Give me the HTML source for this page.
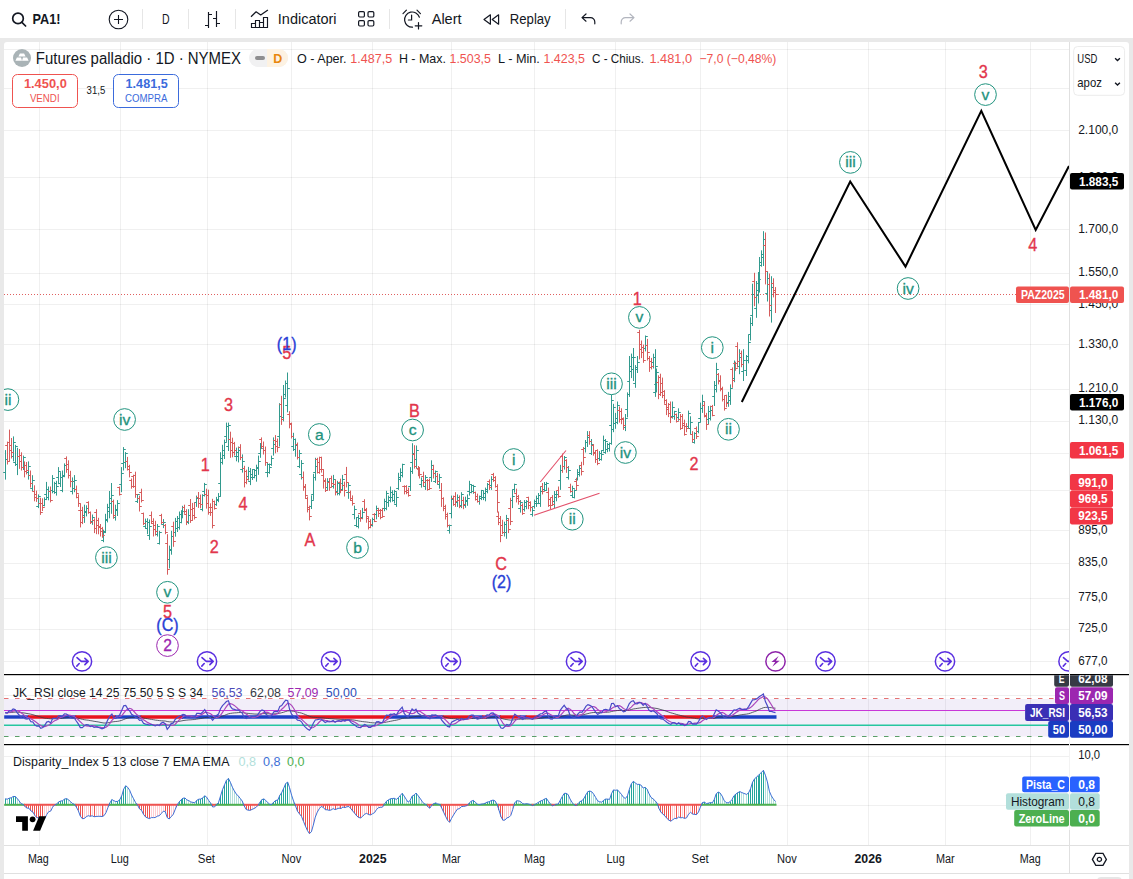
<!DOCTYPE html>
<html lang="it"><head><meta charset="utf-8"><title>PA1! chart</title>
<style>
html,body{margin:0;padding:0}
body{width:1133px;height:879px;overflow:hidden;position:relative;background:#e9e9e9;font-family:"Liberation Sans", sans-serif;color:#131722}
#tb{position:absolute;left:0;top:0;width:1133px;height:38px;background:#fff}
#tb .sep{position:absolute;top:9px;width:1px;height:20px;background:#e6e6e6}
#tb svg{position:absolute;overflow:visible}
#ch{position:absolute;left:4px;top:42px;width:1125px;height:837px;background:#fff;border-radius:3px 3px 0 0}
#main{position:absolute;left:0;top:0}
.lg{position:absolute;white-space:nowrap}
</style></head><body>
<div id="tb">
<svg style="left:11px;top:11px" width="16" height="16" viewBox="0 0 16 16"><circle cx="7" cy="7.4" r="5.3" fill="none" stroke="#131722" stroke-width="1.7"/><path d="M10.9 11.3L14.6 15" stroke="#131722" stroke-width="1.7" stroke-linecap="round"/></svg>
<svg style="left:108px;top:9px" width="21" height="21" viewBox="-10.5 -10.5 21 21"><circle r="9.3" fill="none" stroke="#131722" stroke-width="1.1"/><path d="M-4.5 0H4.5M0 -4.5V4.5" stroke="#131722" stroke-width="1.1"/></svg>
<div class="sep" style="left:142px"></div>
<div class="sep" style="left:188px"></div>
<div class="sep" style="left:235px"></div>
<svg style="left:358px;top:11px" width="17" height="16" viewBox="0 0 17 16" fill="none" stroke="#131722" stroke-width="1.2"><rect x=".6" y=".6" width="5.8" height="5.4" rx="1.2"/><rect x="10" y=".6" width="5.8" height="5.4" rx="1.2"/><rect x=".6" y="9.6" width="5.8" height="5.4" rx="1.2"/><rect x="10" y="9.6" width="5.8" height="5.4" rx="1.2"/></svg>
<div class="sep" style="left:389px"></div>
<svg style="left:402px;top:9px" width="22" height="21" viewBox="0 0 22 21" fill="none" stroke="#131722" stroke-width="1.2" stroke-linecap="round"><path d="M17.4 8.2A7.6 7.6 0 1 0 10.5 18.2"/><path d="M9.6 6V11H6.4"/><path d="M1 4.6L4.4 1.2M15 1.2L18.4 4.6"/><path d="M16.5 13.5V20M13.2 16.8H19.8"/></svg>
<svg style="left:483px;top:14px" width="17" height="11" viewBox="0 0 17 11" fill="none" stroke="#131722" stroke-width="1.2" stroke-linejoin="round"><path d="M7.4 .8V10.2L1 5.5Z"/><path d="M15.6 .8V10.2L9.2 5.5Z"/></svg>
<div class="sep" style="left:565px"></div>
<svg style="left:581px;top:13px" width="15" height="12" viewBox="0 0 15 12" fill="none" stroke="#131722" stroke-width="1.2" stroke-linecap="round" stroke-linejoin="round"><path d="M5 1L1 4.6L5 8.2M1.2 4.6H9.5A4.3 4.3 0 0 1 13.8 8.9V10.8"/></svg>
<svg style="left:619.5px;top:13px" width="15" height="12" viewBox="0 0 15 12" fill="none" stroke="#b2b5be" stroke-width="1.2" stroke-linecap="round" stroke-linejoin="round"><path d="M10 1L14 4.6L10 8.2M13.8 4.6H5.5A4.3 4.3 0 0 0 1.2 8.9V10.8"/></svg>
</div>
<div id="ch"></div>
<svg id="main" width="1133" height="879" viewBox="0 0 1133 879" font-family='"Liberation Sans", sans-serif'>
<defs><clipPath id="mainclip"><rect x="4" y="42" width="1065" height="632"/></clipPath><clipPath id="rsiclip"><rect x="1000" y="675.2" width="133" height="70"/></clipPath></defs>
<path d="M39.5 42V845M120.5 42V845M207.5 42V845M291.5 42V845M372.5 42V845M451.5 42V845M534.5 42V845M615.5 42V845M700.5 42V845M787.5 42V845M868.5 42V845M945.5 42V845M1030.5 42V845" stroke="#000" stroke-opacity="0.06" stroke-width="1" fill="none"/>
<path d="M4 49.5H1069M4 88.5H1069M4 130.5H1069M4 177.5H1069M4 229.5H1069M4 273.5H1069M4 304.5H1069M4 344.5H1069M4 389.5H1069M4 421.5H1069M4 453.5H1069M4 490.5H1069M4 530.5H1069M4 563.5H1069M4 598.5H1069M4 629.5H1069M4 661.5H1069M4 695.5H1069M4 756.5H1069M4 805.5H1069" stroke="#000" stroke-opacity="0.06" stroke-width="1" fill="none"/>
<rect x="4" y="699" width="1065" height="37.5" fill="#7e57c2" fill-opacity="0.1"/>
<line x1="4" y1="698.5" x2="1055" y2="698.5" stroke="#e57373" stroke-width="1" stroke-dasharray="4.5 6.5"/>
<line x1="4" y1="736.5" x2="1048" y2="736.5" stroke="#5a9e68" stroke-width="1" stroke-dasharray="4.5 6.5"/>
<line x1="4" y1="725.2" x2="1048" y2="725.2" stroke="#26c6a0" stroke-width="1.4"/>
<line x1="4" y1="710.5" x2="1025" y2="710.5" stroke="#c837d8" stroke-width="1"/>
<line x1="4.2" y1="717" x2="28.9" y2="717" stroke="#1c3fc4" stroke-width="3.4"/><line x1="27.9" y1="717" x2="60.5" y2="717" stroke="#e8121d" stroke-width="3.4"/><line x1="59.5" y1="717" x2="76.3" y2="717" stroke="#1c3fc4" stroke-width="3.4"/><line x1="75.3" y1="717" x2="115.8" y2="717" stroke="#e8121d" stroke-width="3.4"/><line x1="114.8" y1="717" x2="141.5" y2="717" stroke="#1c3fc4" stroke-width="3.4"/><line x1="140.5" y1="717" x2="183.0" y2="717" stroke="#e8121d" stroke-width="3.4"/><line x1="182.0" y1="717" x2="299.5" y2="717" stroke="#1c3fc4" stroke-width="3.4"/><line x1="298.5" y1="717" x2="390.4" y2="717" stroke="#e8121d" stroke-width="3.4"/><line x1="389.4" y1="717" x2="443.7" y2="717" stroke="#1c3fc4" stroke-width="3.4"/><line x1="442.7" y1="717" x2="473.3" y2="717" stroke="#e8121d" stroke-width="3.4"/><line x1="472.3" y1="717" x2="483.2" y2="717" stroke="#1c3fc4" stroke-width="3.4"/><line x1="482.2" y1="717" x2="487.1" y2="717" stroke="#e8121d" stroke-width="3.4"/><line x1="486.1" y1="717" x2="501.0" y2="717" stroke="#1c3fc4" stroke-width="3.4"/><line x1="500.0" y1="717" x2="520.7" y2="717" stroke="#e8121d" stroke-width="3.4"/><line x1="519.7" y1="717" x2="526.6" y2="717" stroke="#1c3fc4" stroke-width="3.4"/><line x1="525.6" y1="717" x2="538.5" y2="717" stroke="#e8121d" stroke-width="3.4"/><line x1="537.5" y1="717" x2="664.9" y2="717" stroke="#1c3fc4" stroke-width="3.4"/><line x1="663.9" y1="717" x2="714.3" y2="717" stroke="#e8121d" stroke-width="3.4"/><line x1="713.3" y1="717" x2="776.5" y2="717" stroke="#1c3fc4" stroke-width="3.4"/><polyline points="5.2,712.7 7.2,712.7 9.2,712.6 11.2,712.5 13.1,712.3 15.1,712.1 17.1,712.2 19.1,712.3 21.0,712.6 23.0,712.8 25.0,713.1 27.0,713.5 28.9,713.8 30.9,714.2 32.9,714.7 34.9,715.3 36.8,715.9 38.8,716.5 40.8,717.1 42.8,717.7 44.7,718.2 46.7,718.4 48.7,718.6 50.7,718.8 52.6,718.8 54.6,718.8 56.6,718.8 58.6,718.6 60.5,718.5 62.5,718.3 64.5,718.0 66.5,717.8 68.4,717.7 70.4,717.7 72.4,717.7 74.4,717.7 76.3,717.9 78.3,718.3 80.3,718.8 82.3,719.3 84.2,719.7 86.2,720.0 88.2,720.2 90.2,720.6 92.1,720.9 94.1,721.3 96.1,721.6 98.1,721.9 100.0,722.3 102.0,722.7 104.0,723.0 106.0,723.0 107.9,722.8 109.9,722.4 111.9,722.0 113.9,721.7 115.8,721.5 117.8,721.3 119.8,720.9 121.8,720.3 123.7,719.5 125.7,718.7 127.7,718.1 129.7,717.7 131.6,717.5 133.6,717.4 135.6,717.4 137.6,717.4 139.5,717.6 141.5,717.7 143.5,718.0 145.5,718.4 147.4,718.7 149.4,719.1 151.4,719.4 153.4,719.7 155.3,720.1 157.3,720.3 159.3,720.6 161.3,720.8 163.2,720.9 165.2,721.0 167.2,721.5 169.2,721.8 171.1,721.9 173.1,722.0 175.1,721.8 177.1,721.6 179.0,721.3 181.0,721.0 183.0,720.6 185.0,720.3 186.9,720.1 188.9,719.9 190.9,719.8 192.9,719.6 194.8,719.5 196.8,719.1 198.8,718.8 200.8,718.5 202.7,718.1 204.7,717.6 206.7,717.4 208.7,717.3 210.6,717.4 212.6,717.5 214.6,717.5 216.6,717.4 218.5,717.2 220.5,716.7 222.5,716.1 224.5,715.4 226.4,714.6 228.4,713.8 230.4,713.4 232.4,713.1 234.3,712.9 236.3,712.8 238.3,712.6 240.3,712.5 242.2,712.6 244.2,712.9 246.2,713.2 248.2,713.4 250.1,713.7 252.1,713.8 254.1,714.0 256.1,714.1 258.0,714.1 260.0,714.0 262.0,713.7 264.0,713.6 265.9,713.6 267.9,713.7 269.9,713.9 271.9,714.0 273.8,713.9 275.8,713.7 277.8,713.6 279.8,713.2 281.7,712.7 283.7,712.2 285.7,711.5 287.7,710.9 289.6,710.8 291.6,711.0 293.6,711.3 295.6,711.7 297.5,712.2 299.5,712.6 301.5,713.1 303.5,713.8 305.4,714.6 307.4,715.4 309.4,716.3 311.4,716.9 313.3,717.3 315.3,717.4 317.3,717.6 319.3,717.7 321.2,717.7 323.2,717.9 325.2,718.2 327.2,718.4 329.1,718.6 331.1,718.7 333.1,718.8 335.1,719.0 337.0,719.1 339.0,719.2 341.0,719.4 343.0,719.4 344.9,719.5 346.9,719.5 348.9,719.5 350.9,719.7 352.8,719.9 354.8,720.2 356.8,720.6 358.8,721.0 360.7,721.3 362.7,721.6 364.7,721.8 366.7,722.0 368.6,722.3 370.6,722.6 372.6,722.8 374.6,722.9 376.5,722.8 378.5,722.8 380.5,722.8 382.5,722.7 384.4,722.5 386.4,722.1 388.4,721.7 390.4,721.3 392.3,720.9 394.3,720.5 396.3,720.2 398.3,719.7 400.2,719.1 402.2,718.4 404.2,718.1 406.2,718.0 408.1,717.9 410.1,717.7 412.1,717.2 414.1,716.8 416.0,716.4 418.0,716.2 420.0,716.1 422.0,716.1 423.9,716.1 425.9,716.1 427.9,716.3 429.9,716.4 431.8,716.3 433.8,716.2 435.8,716.2 437.8,716.2 439.7,716.2 441.7,716.4 443.7,716.8 445.7,717.2 447.6,717.8 449.6,718.3 451.6,718.5 453.6,718.7 455.5,718.7 457.5,718.8 459.5,718.9 461.5,718.8 463.4,718.9 465.4,718.9 467.4,718.9 469.4,718.7 471.3,718.5 473.3,718.3 475.3,718.3 477.3,718.4 479.2,718.4 481.2,718.3 483.2,718.2 485.2,718.1 487.1,717.9 489.1,717.8 491.1,717.5 493.1,717.2 495.0,717.1 497.0,717.2 499.0,717.7 501.0,718.2 502.9,718.8 504.9,719.3 506.9,719.6 508.9,719.9 510.8,720.1 512.8,720.0 514.8,719.7 516.8,719.4 518.7,719.3 520.7,719.2 522.7,719.2 524.7,719.1 526.6,719.0 528.6,719.0 530.6,718.9 532.6,719.0 534.5,718.9 536.5,718.7 538.5,718.5 540.5,718.3 542.4,718.0 544.4,717.6 546.4,717.2 548.4,717.2 550.3,717.3 552.3,717.4 554.3,717.4 556.3,717.3 558.2,717.2 560.2,716.8 562.2,716.3 564.2,715.7 566.1,715.2 568.1,714.9 570.1,715.0 572.1,715.1 574.0,715.2 576.0,715.3 578.0,715.2 580.0,715.0 581.9,714.9 583.9,714.6 585.9,714.1 587.9,713.6 589.8,713.1 591.8,712.7 593.8,712.5 595.8,712.5 597.7,712.6 599.7,712.6 601.7,712.6 603.7,712.5 605.6,712.3 607.6,712.2 609.6,712.0 611.6,711.5 613.5,711.1 615.5,710.8 617.5,710.5 619.5,710.4 621.4,710.4 623.4,710.5 625.4,710.5 627.4,710.4 629.3,710.0 631.3,709.5 633.3,709.0 635.3,708.7 637.2,708.4 639.2,708.1 641.2,707.8 643.2,707.6 645.1,707.4 647.1,707.3 649.1,707.5 651.1,707.7 653.0,707.9 655.0,708.2 657.0,708.5 659.0,709.0 660.9,709.6 662.9,710.1 664.9,710.7 666.9,711.4 668.8,712.1 670.8,712.8 672.8,713.3 674.8,713.9 676.7,714.5 678.7,715.0 680.7,715.5 682.7,716.0 684.6,716.5 686.6,717.0 688.6,717.3 690.6,717.5 692.5,717.9 694.5,718.2 696.5,718.6 698.5,718.8 700.4,718.7 702.4,718.6 704.4,718.5 706.4,718.6 708.3,718.5 710.3,718.5 712.3,718.4 714.3,718.2 716.2,717.7 718.2,717.3 720.2,717.0 722.2,716.9 724.1,716.9 726.1,717.0 728.1,716.9 730.1,716.8 732.0,716.5 734.0,716.2 736.0,715.8 738.0,715.4 739.9,715.0 741.9,714.7 743.9,714.4 746.6,714.1 748.6,713.7 750.5,713.1 752.6,712.3 754.6,711.6 756.5,710.9 758.0,710.1 759.5,709.3 761.5,708.5 763.4,707.7 765.4,707.4 767.4,707.3 769.4,707.5 771.4,707.7 773.5,708.0 775.5,708.2" fill="none" stroke="#363a45" stroke-width="0.8"/><polyline points="5.2,712.7 7.2,712.9 9.2,712.2 11.2,711.9 13.1,711.3 15.1,710.7 17.1,710.6 19.1,711.4 21.0,712.7 23.0,714.1 25.0,715.9 27.0,717.2 28.9,717.9 30.9,718.7 32.9,720.0 34.9,721.3 36.8,722.7 38.8,724.2 40.8,725.5 42.8,726.6 44.7,726.7 46.7,725.9 48.7,725.0 50.7,723.9 52.6,722.1 54.6,720.7 56.6,720.0 58.6,718.8 60.5,717.5 62.5,716.9 64.5,716.0 66.5,715.1 68.4,715.1 70.4,715.3 72.4,715.8 74.4,716.7 76.3,718.1 78.3,719.8 80.3,721.8 82.3,723.6 84.2,725.2 86.2,725.9 88.2,726.1 90.2,725.9 92.1,725.6 94.1,725.9 96.1,726.4 98.1,726.9 100.0,727.1 102.0,727.7 104.0,727.8 106.0,727.2 107.9,725.7 109.9,723.3 111.9,720.3 113.9,718.4 115.8,717.2 117.8,716.7 119.8,716.4 121.8,715.7 123.7,713.2 125.7,710.6 127.7,709.0 129.7,708.3 131.6,709.0 133.6,711.0 135.6,713.4 137.6,715.2 139.5,717.1 141.5,718.2 143.5,719.8 145.5,721.1 147.4,722.4 149.4,723.4 151.4,724.3 153.4,724.7 155.3,725.0 157.3,725.1 159.3,725.1 161.3,724.9 163.2,724.3 165.2,723.9 167.2,724.8 169.2,725.1 171.1,725.2 173.1,725.4 175.1,724.5 177.1,722.1 179.0,720.1 181.0,718.4 183.0,716.7 185.0,715.8 186.9,715.7 188.9,715.8 190.9,716.2 192.9,716.7 194.8,717.2 196.8,716.4 198.8,715.7 200.8,714.9 202.7,713.9 204.7,712.4 206.7,712.4 208.7,713.0 210.6,713.7 212.6,715.4 214.6,717.1 216.6,717.5 218.5,717.0 220.5,715.3 222.5,712.3 224.5,709.5 226.4,706.7 228.4,704.1 230.4,703.6 232.4,704.3 234.3,705.4 236.3,707.1 238.3,709.0 240.3,710.0 242.2,710.8 244.2,712.5 246.2,714.1 248.2,715.6 250.1,716.8 252.1,717.6 254.1,717.4 256.1,716.9 258.0,716.2 260.0,715.0 262.0,713.6 264.0,712.4 265.9,712.1 267.9,712.3 269.9,713.5 271.9,714.6 273.8,714.8 275.8,714.2 277.8,713.4 279.8,711.3 281.7,709.3 283.7,707.5 285.7,705.3 287.7,703.1 289.6,703.7 291.6,705.4 293.6,708.2 295.6,711.7 297.5,715.6 299.5,717.8 301.5,719.3 303.5,721.1 305.4,722.9 307.4,724.7 309.4,726.7 311.4,727.8 313.3,727.5 315.3,726.0 317.3,724.2 319.3,722.0 321.2,720.2 323.2,719.8 325.2,720.3 327.2,720.6 329.1,721.2 331.1,721.7 333.1,721.6 335.1,721.6 337.0,721.4 339.0,721.2 341.0,721.2 343.0,721.0 344.9,720.8 346.9,720.5 348.9,720.4 350.9,720.6 352.8,721.4 354.8,722.2 356.8,723.6 358.8,725.1 360.7,726.1 362.7,726.5 364.7,726.4 366.7,726.1 368.6,726.2 370.6,726.1 372.6,726.0 374.6,726.2 376.5,725.5 378.5,724.4 380.5,723.4 382.5,722.8 384.4,721.4 386.4,720.1 388.4,718.8 390.4,717.1 392.3,715.5 394.3,714.5 396.3,714.6 398.3,713.8 400.2,712.8 402.2,711.4 404.2,711.4 406.2,711.5 408.1,712.5 410.1,713.3 412.1,713.7 414.1,713.1 416.0,711.8 418.0,711.0 420.0,711.3 422.0,712.7 423.9,714.0 425.9,715.4 427.9,716.4 429.9,717.2 431.8,717.0 433.8,716.6 435.8,716.4 437.8,716.1 439.7,715.6 441.7,716.7 443.7,718.2 445.7,720.1 447.6,722.0 449.6,724.1 451.6,724.5 453.6,724.2 455.5,723.4 457.5,721.9 459.5,720.6 461.5,719.9 463.4,719.6 465.4,719.4 467.4,719.3 469.4,718.4 471.3,717.7 473.3,716.8 475.3,716.6 477.3,716.7 479.2,717.2 481.2,717.6 483.2,718.0 485.2,717.6 487.1,716.8 489.1,716.0 491.1,715.3 493.1,714.4 495.0,714.2 497.0,715.1 499.0,717.0 501.0,720.0 502.9,723.1 504.9,725.4 506.9,726.3 508.9,726.5 510.8,725.7 512.8,723.6 514.8,721.1 516.8,719.4 518.7,717.7 520.7,716.4 522.7,716.6 524.7,717.4 526.6,717.8 528.6,718.0 530.6,718.3 532.6,718.3 534.5,718.2 536.5,717.9 538.5,717.4 540.5,716.4 542.4,715.2 544.4,714.0 546.4,713.0 548.4,713.3 550.3,714.4 552.3,715.5 554.3,716.5 556.3,717.5 558.2,717.3 560.2,715.6 562.2,713.3 564.2,711.1 566.1,709.5 568.1,708.2 570.1,709.2 572.1,711.0 574.0,713.5 576.0,715.3 578.0,716.1 580.0,715.4 581.9,714.5 583.9,712.9 585.9,710.8 587.9,709.0 589.8,707.7 591.8,706.5 593.8,706.5 595.8,707.6 597.7,709.6 599.7,711.1 601.7,712.3 603.7,712.4 605.6,711.8 607.6,710.9 609.6,710.3 611.6,708.5 613.5,707.2 615.5,706.7 617.5,705.8 619.5,705.6 621.4,706.8 623.4,708.5 625.4,709.5 627.4,709.9 629.3,708.8 631.3,707.1 633.3,704.9 635.3,703.4 637.2,702.6 639.2,702.4 641.2,702.7 643.2,703.6 645.1,703.6 647.1,704.1 649.1,705.7 651.1,707.4 653.0,708.5 655.0,710.2 657.0,711.7 659.0,713.2 660.9,714.7 662.9,716.3 664.9,718.0 666.9,719.8 668.8,720.9 670.8,722.0 672.8,722.7 674.8,723.1 676.7,723.5 678.7,723.4 680.7,723.4 682.7,723.7 684.6,724.3 686.6,724.4 688.6,724.1 690.6,723.6 692.5,723.5 694.5,723.2 696.5,723.1 698.5,723.1 700.4,722.4 702.4,720.7 704.4,719.5 706.4,718.5 708.3,717.8 710.3,717.6 712.3,718.1 714.3,717.3 716.2,715.4 718.2,714.0 720.2,713.0 722.2,712.5 724.1,713.2 726.1,714.7 728.1,715.7 730.1,716.1 732.0,715.6 734.0,714.1 736.0,712.6 738.0,711.2 739.9,709.9 741.9,709.3 743.9,709.2 746.6,709.0 748.6,708.6 750.5,707.6 752.6,705.7 754.6,703.7 756.5,701.7 758.0,699.9 759.5,698.5 761.5,697.6 763.4,696.5 765.4,697.0 767.4,698.6 769.4,701.6 771.4,704.8 773.5,708.4 775.5,710.6" fill="none" stroke="#ab47bc" stroke-width="1.2"/><polyline points="5.2,712.7 7.2,713.1 9.2,710.9 11.2,710.8 13.1,708.9 15.1,709.6 17.1,712.6 19.1,715.0 21.0,717.4 23.0,715.8 25.0,718.6 27.0,719.1 28.9,718.4 30.9,721.7 32.9,722.0 34.9,725.1 36.8,726.1 38.8,725.9 40.8,728.3 42.8,727.6 44.7,725.4 46.7,722.1 48.7,721.5 50.7,722.9 52.6,718.5 54.6,718.2 56.6,718.6 58.6,715.8 60.5,716.2 62.5,715.9 64.5,713.8 66.5,714.0 68.4,715.5 70.4,717.5 72.4,718.2 74.4,718.1 76.3,721.0 78.3,723.9 80.3,727.6 82.3,727.6 84.2,725.9 86.2,724.6 88.2,724.9 90.2,726.6 92.1,725.9 94.1,727.4 96.1,727.0 98.1,727.3 100.0,728.0 102.0,728.9 104.0,728.0 106.0,724.0 107.9,719.6 109.9,716.0 111.9,714.1 113.9,718.2 115.8,718.3 117.8,717.0 119.8,714.6 121.8,710.3 123.7,705.7 125.7,705.4 127.7,708.9 129.7,710.9 131.6,714.2 133.6,715.4 135.6,717.4 137.6,718.1 139.5,720.4 141.5,719.9 143.5,723.3 145.5,724.1 147.4,724.4 149.4,725.2 151.4,724.3 153.4,725.2 155.3,725.8 157.3,724.8 159.3,725.5 161.3,723.1 163.2,722.2 165.2,723.9 167.2,729.3 169.2,726.8 171.1,723.6 173.1,723.2 175.1,719.5 177.1,717.7 179.0,716.4 181.0,715.5 183.0,714.5 185.0,714.9 186.9,717.3 188.9,716.7 190.9,717.7 192.9,717.0 194.8,717.1 196.8,713.4 198.8,713.4 200.8,713.6 202.7,712.0 204.7,709.5 206.7,713.3 208.7,716.5 210.6,717.6 212.6,720.3 214.6,717.8 216.6,715.4 218.5,714.1 220.5,708.7 222.5,705.6 224.5,703.7 226.4,701.5 228.4,700.7 230.4,706.4 232.4,708.9 234.3,709.4 236.3,710.1 238.3,709.9 240.3,711.6 242.2,713.1 244.2,717.6 246.2,718.5 248.2,717.4 250.1,717.6 252.1,716.7 254.1,716.6 256.1,715.9 258.0,714.4 260.0,711.3 262.0,709.9 264.0,710.7 265.9,714.2 267.9,715.7 269.9,717.1 271.9,715.3 273.8,711.8 275.8,711.3 277.8,711.6 279.8,706.4 281.7,705.6 283.7,702.7 285.7,700.2 287.7,700.8 289.6,709.3 291.6,714.2 293.6,716.3 295.6,717.9 297.5,720.2 299.5,720.3 301.5,721.8 303.5,725.1 305.4,727.1 307.4,729.1 309.4,730.3 311.4,727.7 313.3,723.2 315.3,720.0 317.3,719.7 319.3,719.2 321.2,719.0 323.2,720.8 325.2,722.6 327.2,721.5 329.1,722.0 331.1,721.5 333.1,720.5 335.1,722.2 337.0,721.0 339.0,720.6 341.0,721.6 343.0,719.7 344.9,721.0 346.9,719.8 348.9,719.9 350.9,722.4 352.8,723.7 354.8,725.1 356.8,726.7 358.8,727.4 360.7,727.6 362.7,725.9 364.7,724.5 366.7,725.4 368.6,727.4 370.6,727.3 372.6,725.7 374.6,725.5 376.5,721.8 378.5,721.7 380.5,722.6 382.5,722.4 384.4,718.4 386.4,715.2 388.4,715.4 390.4,714.2 392.3,714.3 394.3,713.6 396.3,715.3 398.3,711.7 400.2,709.3 402.2,707.1 404.2,713.4 406.2,715.8 408.1,717.1 410.1,713.0 412.1,709.0 414.1,710.8 416.0,709.2 418.0,713.2 420.0,714.5 422.0,716.1 423.9,716.9 425.9,716.3 427.9,718.2 429.9,718.7 431.8,714.9 433.8,715.1 435.8,714.9 437.8,716.8 439.7,716.5 441.7,720.2 443.7,722.5 445.7,724.6 447.6,726.4 449.6,727.0 451.6,722.1 453.6,721.1 455.5,720.2 457.5,719.2 459.5,720.5 461.5,718.5 463.4,719.6 465.4,719.2 467.4,718.6 469.4,715.9 471.3,715.2 473.3,715.1 475.3,718.0 477.3,719.2 479.2,718.6 481.2,717.0 483.2,717.1 485.2,716.2 487.1,714.8 489.1,715.0 491.1,713.2 493.1,713.0 495.0,714.9 497.0,719.5 499.0,724.5 501.0,728.0 502.9,728.4 504.9,726.5 506.9,724.4 508.9,725.4 510.8,723.7 512.8,718.1 514.8,714.2 516.8,715.7 518.7,716.7 520.7,717.3 522.7,719.4 524.7,718.1 526.6,717.4 528.6,718.1 530.6,718.7 532.6,719.3 534.5,717.5 536.5,716.2 538.5,715.1 540.5,713.8 542.4,713.5 544.4,711.6 546.4,710.9 548.4,716.8 550.3,718.9 552.3,719.2 554.3,716.7 556.3,715.9 558.2,716.1 560.2,710.4 562.2,707.7 564.2,705.3 566.1,708.0 568.1,709.7 570.1,715.5 572.1,716.8 574.0,717.7 576.0,716.8 578.0,713.8 580.0,711.9 581.9,712.3 583.9,709.7 585.9,706.4 587.9,704.6 589.8,705.4 591.8,706.5 593.8,709.4 595.8,712.3 597.7,714.4 599.7,713.0 601.7,712.6 603.7,709.7 605.6,709.3 607.6,709.9 609.6,710.0 611.6,703.5 613.5,703.4 615.5,706.5 617.5,705.7 619.5,708.9 621.4,709.8 623.4,711.8 625.4,711.2 627.4,707.8 629.3,703.6 631.3,701.4 633.3,700.7 635.3,703.6 637.2,703.8 639.2,702.5 641.2,703.0 643.2,705.3 645.1,703.4 647.1,706.5 649.1,710.4 651.1,711.5 653.0,710.7 655.0,712.1 657.0,713.7 659.0,717.9 660.9,718.9 662.9,719.1 664.9,720.6 666.9,722.3 668.8,723.5 670.8,724.4 672.8,722.7 674.8,722.8 676.7,724.3 678.7,722.7 680.7,724.6 682.7,724.2 684.6,725.5 686.6,724.8 688.6,721.4 690.6,721.8 692.5,724.2 694.5,723.9 696.5,724.2 698.5,721.5 700.4,718.1 702.4,715.8 704.4,717.6 706.4,719.5 708.3,718.0 710.3,717.3 712.3,717.9 714.3,713.8 716.2,709.9 718.2,711.0 720.2,712.6 722.2,715.1 724.1,717.4 726.1,717.2 728.1,716.1 730.1,714.5 732.0,712.7 734.0,709.8 736.0,710.0 738.0,709.0 739.9,708.1 741.9,709.5 743.9,709.3 746.6,709.3 748.6,706.6 750.5,703.4 752.6,699.8 754.6,699.6 756.5,698.9 758.0,697.8 759.5,696.5 761.5,695.3 763.4,694.0 765.4,701.6 767.4,705.7 769.4,711.5 771.4,711.4 773.5,712.1 775.5,712.6" fill="none" stroke="#4a4ac8" stroke-width="1.2"/>
<path d="M5.5 804.8V798.8M9.5 804.8V798.2M11.5 804.8V797.8M13.5 804.8V796.5M15.5 804.8V796.5M56.5 804.8V804.2M58.5 804.8V801.9M60.5 804.8V801.1M62.5 804.8V800.7M64.5 804.8V799.1M66.5 804.8V798.6M109.5 804.8V802.9M111.5 804.8V799.6M117.5 804.8V801.3M119.5 804.8V799.7M121.5 804.8V795.6M123.5 804.8V789.1M125.5 804.8V785.8M179.5 804.8V802.1M181.5 804.8V799.9M182.5 804.8V798.2M184.5 804.8V798.0M196.5 804.8V800.3M198.5 804.8V799.2M200.5 804.8V799.0M202.5 804.8V798.0M204.5 804.8V795.8M216.5 804.8V804.6M218.5 804.8V802.5M220.5 804.8V796.1M222.5 804.8V789.7M224.5 804.8V784.9M226.5 804.8V780.4M228.5 804.8V778.4M260.5 804.8V802.1M261.5 804.8V799.6M263.5 804.8V798.9M271.5 804.8V804.4M273.5 804.8V802.0M275.5 804.8V800.5M277.5 804.8V800.0M279.5 804.8V795.4M281.5 804.8V792.6M283.5 804.8V788.3M285.5 804.8V783.6M287.5 804.8V782.1M384.5 804.8V804.3M386.5 804.8V801.3M388.5 804.8V799.9M390.5 804.8V798.8M392.5 804.8V798.5M394.5 804.8V798.3M398.5 804.8V797.8M400.5 804.8V795.6M402.5 804.8V793.3M410.5 804.8V800.5M412.5 804.8V796.1M414.5 804.8V795.1M416.5 804.8V793.1M433.5 804.8V803.7M435.5 804.8V802.9M469.5 804.8V802.8M471.5 804.8V801.2M473.5 804.8V800.4M481.5 804.8V804.1M483.5 804.8V803.9M485.5 804.8V803.2M487.5 804.8V802.1M489.5 804.8V801.8M491.5 804.8V800.6M493.5 804.8V800.1M514.5 804.8V802.7M516.5 804.8V800.8M526.5 804.8V803.7M534.5 804.8V804.7M536.5 804.8V803.5M538.5 804.8V802.3M540.5 804.8V801.0M542.5 804.8V800.4M544.5 804.8V799.1M546.5 804.8V798.4M556.5 804.8V804.3M558.5 804.8V804.1M560.5 804.8V800.3M562.5 804.8V796.7M564.5 804.8V793.4M566.5 804.8V793.3M577.5 804.8V803.8M579.5 804.8V801.6M581.5 804.8V800.8M583.5 804.8V798.5M585.5 804.8V794.8M587.5 804.8V791.7M589.5 804.8V791.0M603.5 804.8V800.3M605.5 804.8V799.1M607.5 804.8V799.1M611.5 804.8V793.4M613.5 804.8V789.9M617.5 804.8V789.9M627.5 804.8V795.9M629.5 804.8V789.5M631.5 804.8V783.9M633.5 804.8V781.3M639.5 804.8V784.3M645.5 804.8V787.3M702.5 804.8V802.6M704.5 804.8V802.1M708.5 804.8V803.2M710.5 804.8V802.6M714.5 804.8V799.4M716.5 804.8V793.8M718.5 804.8V792.1M730.5 804.8V801.7M732.5 804.8V799.5M734.5 804.8V795.7M735.5 804.8V794.0M737.5 804.8V792.6M739.5 804.8V791.6M748.5 804.8V792.8M750.5 804.8V788.9M752.5 804.8V782.1M754.5 804.8V778.8M756.5 804.8V777.1M758.5 804.8V775.8M759.5 804.8V774.1M761.5 804.8V772.4M763.5 804.8V770.3" stroke="#26a69a" stroke-width="1" fill="none"/><path d="M7.5 804.8V799.2M17.5 804.8V798.3M19.5 804.8V800.9M21.5 804.8V803.7M23.5 804.8V804.3M68.5 804.8V799.6M70.5 804.8V801.7M72.5 804.8V803.4M74.5 804.8V804.3M113.5 804.8V800.7M115.5 804.8V801.6M127.5 804.8V787.3M129.5 804.8V790.3M131.5 804.8V795.0M133.5 804.8V798.8M135.5 804.8V802.6M186.5 804.8V799.9M188.5 804.8V800.7M190.5 804.8V802.0M192.5 804.8V802.4M194.5 804.8V802.8M206.5 804.8V797.2M208.5 804.8V800.5M210.5 804.8V803.1M230.5 804.8V782.3M232.5 804.8V787.2M234.5 804.8V790.9M236.5 804.8V794.0M238.5 804.8V796.0M240.5 804.8V798.5M242.5 804.8V801.0M265.5 804.8V800.7M267.5 804.8V802.6M269.5 804.8V804.5M289.5 804.8V787.8M291.5 804.8V795.2M293.5 804.8V801.2M396.5 804.8V799.4M404.5 804.8V796.1M406.5 804.8V799.3M408.5 804.8V802.1M418.5 804.8V795.6M419.5 804.8V798.2M421.5 804.8V801.2M423.5 804.8V803.6M425.5 804.8V804.5M437.5 804.8V804.0M439.5 804.8V804.3M475.5 804.8V802.2M477.5 804.8V804.1M479.5 804.8V804.8M495.5 804.8V800.9M497.5 804.8V804.2M518.5 804.8V800.9M520.5 804.8V801.6M522.5 804.8V803.7M524.5 804.8V804.0M528.5 804.8V804.0M530.5 804.8V804.7M548.5 804.8V801.3M550.5 804.8V804.0M568.5 804.8V794.6M570.5 804.8V799.1M572.5 804.8V802.4M574.5 804.8V804.8M591.5 804.8V791.8M593.5 804.8V794.3M595.5 804.8V797.7M597.5 804.8V800.9M599.5 804.8V801.8M601.5 804.8V802.1M609.5 804.8V799.4M615.5 804.8V790.3M619.5 804.8V792.1M621.5 804.8V794.3M623.5 804.8V797.2M625.5 804.8V798.5M635.5 804.8V782.9M637.5 804.8V784.4M641.5 804.8V785.3M643.5 804.8V788.1M647.5 804.8V789.3M649.5 804.8V793.9M651.5 804.8V797.5M653.5 804.8V798.8M655.5 804.8V800.7M656.5 804.8V803.0M706.5 804.8V803.6M712.5 804.8V802.9M720.5 804.8V793.1M722.5 804.8V796.2M724.5 804.8V800.4M726.5 804.8V802.6M728.5 804.8V802.9M741.5 804.8V792.6M743.5 804.8V793.4M746.5 804.8V794.4M765.5 804.8V775.2M767.5 804.8V781.9M769.5 804.8V791.3M771.5 804.8V795.9M773.5 804.8V799.2M775.5 804.8V801.5" stroke="#b2dfdb" stroke-width="1" fill="none"/><path d="M24.5 804.8V806.5M26.5 804.8V808.1M28.5 804.8V808.2M30.5 804.8V810.8M32.5 804.8V812.1M34.5 804.8V815.4M36.5 804.8V817.6M38.5 804.8V818.0M40.5 804.8V820.2M42.5 804.8V820.5M76.5 804.8V807.0M78.5 804.8V810.7M80.5 804.8V816.1M82.5 804.8V818.7M90.5 804.8V816.3M94.5 804.8V816.7M102.5 804.8V816.5M137.5 804.8V805.2M139.5 804.8V808.9M141.5 804.8V810.3M143.5 804.8V814.3M145.5 804.8V816.9M147.5 804.8V817.9M149.5 804.8V818.6M165.5 804.8V811.4M167.5 804.8V817.6M169.5 804.8V819.0M212.5 804.8V806.9M244.5 804.8V805.9M246.5 804.8V809.5M248.5 804.8V810.2M250.5 804.8V810.3M295.5 804.8V806.0M297.5 804.8V811.3M299.5 804.8V813.9M301.5 804.8V816.4M303.5 804.8V821.4M305.5 804.8V826.0M307.5 804.8V830.5M309.5 804.8V833.6M323.5 804.8V807.3M325.5 804.8V809.7M327.5 804.8V809.8M329.5 804.8V810.3M335.5 804.8V809.6M340.5 804.8V808.5M344.5 804.8V807.6M350.5 804.8V808.7M352.5 804.8V811.1M354.5 804.8V813.4M356.5 804.8V816.0M358.5 804.8V817.5M360.5 804.8V817.9M368.5 804.8V814.6M370.5 804.8V814.9M427.5 804.8V806.7M429.5 804.8V808.2M441.5 804.8V808.0M443.5 804.8V812.3M445.5 804.8V816.5M447.5 804.8V820.3M449.5 804.8V822.3M498.5 804.8V810.2M500.5 804.8V816.7M502.5 804.8V820.2M532.5 804.8V805.6M552.5 804.8V805.8M576.5 804.8V805.6M658.5 804.8V808.4M660.5 804.8V812.2M662.5 804.8V814.0M664.5 804.8V816.0M666.5 804.8V818.3M668.5 804.8V820.1M670.5 804.8V821.2M676.5 804.8V818.6M680.5 804.8V817.8M684.5 804.8V818.4M692.5 804.8V814.0M694.5 804.8V814.4M696.5 804.8V814.6" stroke="#ef5350" stroke-width="1" fill="none"/><path d="M44.5 804.8V818.6M46.5 804.8V814.6M48.5 804.8V811.7M50.5 804.8V811.1M52.5 804.8V807.2M54.5 804.8V804.9M84.5 804.8V818.5M86.5 804.8V816.8M88.5 804.8V815.7M92.5 804.8V815.8M96.5 804.8V816.5M98.5 804.8V816.3M100.5 804.8V816.3M103.5 804.8V815.7M105.5 804.8V812.6M107.5 804.8V807.7M151.5 804.8V817.6M153.5 804.8V817.6M155.5 804.8V817.5M157.5 804.8V816.2M159.5 804.8V815.7M161.5 804.8V813.5M163.5 804.8V811.3M171.5 804.8V816.6M173.5 804.8V814.7M175.5 804.8V809.7M177.5 804.8V805.1M214.5 804.8V806.9M252.5 804.8V809.4M254.5 804.8V808.5M256.5 804.8V807.3M258.5 804.8V805.4M311.5 804.8V831.8M313.5 804.8V825.1M315.5 804.8V817.1M317.5 804.8V812.1M319.5 804.8V808.7M321.5 804.8V806.5M331.5 804.8V810.0M333.5 804.8V808.6M337.5 804.8V808.9M339.5 804.8V808.1M342.5 804.8V807.0M346.5 804.8V806.8M348.5 804.8V806.5M362.5 804.8V816.3M364.5 804.8V814.1M366.5 804.8V813.4M372.5 804.8V813.7M374.5 804.8V812.6M376.5 804.8V809.5M378.5 804.8V807.7M380.5 804.8V807.4M382.5 804.8V807.1M431.5 804.8V805.1M451.5 804.8V818.3M453.5 804.8V814.9M455.5 804.8V811.9M457.5 804.8V809.0M459.5 804.8V808.7M461.5 804.8V806.5M463.5 804.8V806.5M465.5 804.8V806.1M467.5 804.8V805.4M504.5 804.8V820.1M506.5 804.8V817.9M508.5 804.8V817.3M510.5 804.8V815.4M512.5 804.8V809.3M554.5 804.8V805.1M672.5 804.8V819.7M674.5 804.8V818.4M678.5 804.8V817.0M682.5 804.8V817.6M686.5 804.8V817.8M688.5 804.8V814.1M690.5 804.8V812.3M698.5 804.8V812.0M700.5 804.8V807.1" stroke="#ffcdd2" stroke-width="1" fill="none"/><line x1="4.2" y1="804.8" x2="25.0" y2="804.8" stroke="#4caf50" stroke-width="2"/><line x1="24.0" y1="804.8" x2="56.6" y2="804.8" stroke="#ef5350" stroke-width="2"/><line x1="55.6" y1="804.8" x2="76.3" y2="804.8" stroke="#4caf50" stroke-width="2"/><line x1="75.3" y1="804.8" x2="109.9" y2="804.8" stroke="#ef5350" stroke-width="2"/><line x1="108.9" y1="804.8" x2="137.6" y2="804.8" stroke="#4caf50" stroke-width="2"/><line x1="136.6" y1="804.8" x2="179.0" y2="804.8" stroke="#ef5350" stroke-width="2"/><line x1="178.0" y1="804.8" x2="212.6" y2="804.8" stroke="#4caf50" stroke-width="2"/><line x1="211.6" y1="804.8" x2="216.6" y2="804.8" stroke="#ef5350" stroke-width="2"/><line x1="215.6" y1="804.8" x2="244.2" y2="804.8" stroke="#4caf50" stroke-width="2"/><line x1="243.2" y1="804.8" x2="260.0" y2="804.8" stroke="#ef5350" stroke-width="2"/><line x1="259.0" y1="804.8" x2="295.6" y2="804.8" stroke="#4caf50" stroke-width="2"/><line x1="294.6" y1="804.8" x2="384.4" y2="804.8" stroke="#ef5350" stroke-width="2"/><line x1="383.4" y1="804.8" x2="427.9" y2="804.8" stroke="#4caf50" stroke-width="2"/><line x1="426.9" y1="804.8" x2="433.8" y2="804.8" stroke="#ef5350" stroke-width="2"/><line x1="432.8" y1="804.8" x2="441.7" y2="804.8" stroke="#4caf50" stroke-width="2"/><line x1="440.7" y1="804.8" x2="469.4" y2="804.8" stroke="#ef5350" stroke-width="2"/><line x1="468.4" y1="804.8" x2="499.0" y2="804.8" stroke="#4caf50" stroke-width="2"/><line x1="498.0" y1="804.8" x2="514.8" y2="804.8" stroke="#ef5350" stroke-width="2"/><line x1="513.8" y1="804.8" x2="532.6" y2="804.8" stroke="#4caf50" stroke-width="2"/><line x1="531.6" y1="804.8" x2="534.5" y2="804.8" stroke="#ef5350" stroke-width="2"/><line x1="533.5" y1="804.8" x2="552.3" y2="804.8" stroke="#4caf50" stroke-width="2"/><line x1="551.3" y1="804.8" x2="556.3" y2="804.8" stroke="#ef5350" stroke-width="2"/><line x1="555.3" y1="804.8" x2="576.0" y2="804.8" stroke="#4caf50" stroke-width="2"/><line x1="575.0" y1="804.8" x2="578.0" y2="804.8" stroke="#ef5350" stroke-width="2"/><line x1="577.0" y1="804.8" x2="659.0" y2="804.8" stroke="#4caf50" stroke-width="2"/><line x1="658.0" y1="804.8" x2="702.4" y2="804.8" stroke="#ef5350" stroke-width="2"/><line x1="701.4" y1="804.8" x2="776.5" y2="804.8" stroke="#4caf50" stroke-width="2"/><polyline points="5.2,798.8 7.2,799.2 9.2,798.2 11.2,797.8 13.1,796.5 15.1,796.5 17.1,798.3 19.1,800.9 21.0,803.7 23.0,804.3 25.0,806.5 27.0,808.1 28.9,808.2 30.9,810.8 32.9,812.1 34.9,815.4 36.8,817.6 38.8,818.0 40.8,820.2 42.8,820.5 44.7,818.6 46.7,814.6 48.7,811.7 50.7,811.1 52.6,807.2 54.6,804.9 56.6,804.2 58.6,801.9 60.5,801.1 62.5,800.7 64.5,799.1 66.5,798.6 68.4,799.6 70.4,801.7 72.4,803.4 74.4,804.3 76.3,807.0 78.3,810.7 80.3,816.1 82.3,818.7 84.2,818.5 86.2,816.8 88.2,815.7 90.2,816.3 92.1,815.8 94.1,816.7 96.1,816.5 98.1,816.3 100.0,816.3 102.0,816.5 104.0,815.7 106.0,812.6 107.9,807.7 109.9,802.9 111.9,799.6 113.9,800.7 115.8,801.6 117.8,801.3 119.8,799.7 121.8,795.6 123.7,789.1 125.7,785.8 127.7,787.3 129.7,790.3 131.6,795.0 133.6,798.8 135.6,802.6 137.6,805.2 139.5,808.9 141.5,810.3 143.5,814.3 145.5,816.9 147.4,817.9 149.4,818.6 151.4,817.6 153.4,817.6 155.3,817.5 157.3,816.2 159.3,815.7 161.3,813.5 163.2,811.3 165.2,811.4 167.2,817.6 169.2,819.0 171.1,816.6 173.1,814.7 175.1,809.7 177.1,805.1 179.0,802.1 181.0,799.9 183.0,798.2 185.0,798.0 186.9,799.9 188.9,800.7 190.9,802.0 192.9,802.4 194.8,802.8 196.8,800.3 198.8,799.2 200.8,799.0 202.7,798.0 204.7,795.8 206.7,797.2 208.7,800.5 210.6,803.1 212.6,806.9 214.6,806.9 216.6,804.6 218.5,802.5 220.5,796.1 222.5,789.7 224.5,784.9 226.4,780.4 228.4,778.4 230.4,782.3 232.4,787.2 234.3,790.9 236.3,794.0 238.3,796.0 240.3,798.5 242.2,801.0 244.2,805.9 246.2,809.5 248.2,810.2 250.1,810.3 252.1,809.4 254.1,808.5 256.1,807.3 258.0,805.4 260.0,802.1 262.0,799.6 264.0,798.9 265.9,800.7 267.9,802.6 269.9,804.5 271.9,804.4 273.8,802.0 275.8,800.5 277.8,800.0 279.8,795.4 281.7,792.6 283.7,788.3 285.7,783.6 287.7,782.1 289.6,787.8 291.6,795.2 293.6,801.2 295.6,806.0 297.5,811.3 299.5,813.9 301.5,816.4 303.5,821.4 305.4,826.0 307.4,830.5 309.4,833.6 311.4,831.8 313.3,825.1 315.3,817.1 317.3,812.1 319.3,808.7 321.2,806.5 323.2,807.3 325.2,809.7 327.2,809.8 329.1,810.3 331.1,810.0 333.1,808.6 335.1,809.6 337.0,808.9 339.0,808.1 341.0,808.5 343.0,807.0 344.9,807.6 346.9,806.8 348.9,806.5 350.9,808.7 352.8,811.1 354.8,813.4 356.8,816.0 358.8,817.5 360.7,817.9 362.7,816.3 364.7,814.1 366.7,813.4 368.6,814.6 370.6,814.9 372.6,813.7 374.6,812.6 376.5,809.5 378.5,807.7 380.5,807.4 382.5,807.1 384.4,804.3 386.4,801.3 388.4,799.9 390.4,798.8 392.3,798.5 394.3,798.3 396.3,799.4 398.3,797.8 400.2,795.6 402.2,793.3 404.2,796.1 406.2,799.3 408.1,802.1 410.1,800.5 412.1,796.1 414.1,795.1 416.0,793.1 418.0,795.6 420.0,798.2 422.0,801.2 423.9,803.6 425.9,804.5 427.9,806.7 429.9,808.2 431.8,805.1 433.8,803.7 435.8,802.9 437.8,804.0 439.7,804.3 441.7,808.0 443.7,812.3 445.7,816.5 447.6,820.3 449.6,822.3 451.6,818.3 453.6,814.9 455.5,811.9 457.5,809.0 459.5,808.7 461.5,806.5 463.4,806.5 465.4,806.1 467.4,805.4 469.4,802.8 471.3,801.2 473.3,800.4 475.3,802.2 477.3,804.1 479.2,804.8 481.2,804.1 483.2,803.9 485.2,803.2 487.1,802.1 489.1,801.8 491.1,800.6 493.1,800.1 495.0,800.9 497.0,804.2 499.0,810.2 501.0,816.7 502.9,820.2 504.9,820.1 506.9,817.9 508.9,817.3 510.8,815.4 512.8,809.3 514.8,802.7 516.8,800.8 518.7,800.9 520.7,801.6 522.7,803.7 524.7,804.0 526.6,803.7 528.6,804.0 530.6,804.7 532.6,805.6 534.5,804.7 536.5,803.5 538.5,802.3 540.5,801.0 542.4,800.4 544.4,799.1 546.4,798.4 548.4,801.3 550.3,804.0 552.3,805.8 554.3,805.1 556.3,804.3 558.2,804.1 560.2,800.3 562.2,796.7 564.2,793.4 566.1,793.3 568.1,794.6 570.1,799.1 572.1,802.4 574.0,804.8 576.0,805.6 578.0,803.8 580.0,801.6 581.9,800.8 583.9,798.5 585.9,794.8 587.9,791.7 589.8,791.0 591.8,791.8 593.8,794.3 595.8,797.7 597.7,800.9 599.7,801.8 601.7,802.1 603.7,800.3 605.6,799.1 607.6,799.1 609.6,799.4 611.6,793.4 613.5,789.9 615.5,790.3 617.5,789.9 619.5,792.1 621.4,794.3 623.4,797.2 625.4,798.5 627.4,795.9 629.3,789.5 631.3,783.9 633.3,781.3 635.3,782.9 637.2,784.4 639.2,784.3 641.2,785.3 643.2,788.1 645.1,787.3 647.1,789.3 649.1,793.9 651.1,797.5 653.0,798.8 655.0,800.7 657.0,803.0 659.0,808.4 660.9,812.2 662.9,814.0 664.9,816.0 666.9,818.3 668.8,820.1 670.8,821.2 672.8,819.7 674.8,818.4 676.7,818.6 678.7,817.0 680.7,817.8 682.7,817.6 684.6,818.4 686.6,817.8 688.6,814.1 690.6,812.3 692.5,814.0 694.5,814.4 696.5,814.6 698.5,812.0 700.4,807.1 702.4,802.6 704.4,802.1 706.4,803.6 708.3,803.2 710.3,802.6 712.3,802.9 714.3,799.4 716.2,793.8 718.2,792.1 720.2,793.1 722.2,796.2 724.1,800.4 726.1,802.6 728.1,802.9 730.1,801.7 732.0,799.5 734.0,795.7 736.0,794.0 738.0,792.6 739.9,791.6 741.9,792.6 743.9,793.4 746.6,794.4 748.6,792.8 750.5,788.9 752.6,782.1 754.6,778.8 756.5,777.1 758.0,775.8 759.5,774.1 761.5,772.4 763.4,770.3 765.4,775.2 767.4,781.9 769.4,791.3 771.4,795.9 773.5,799.2 775.5,801.5" fill="none" stroke="#3d6fd6" stroke-width="1"/>
<line x1="4" y1="294.5" x2="1016" y2="294.5" stroke="#e06060" stroke-width="1" stroke-dasharray="1 2"/>
<path d="M5.5 450.1V479.6M3.2 472.5H5.5M5.5 459.5H7.8M13.5 436.4V461.4M11.2 456.5H13.5M13.5 442.5H15.8M15.5 444.8V466.0M13.2 462.5H15.5M15.5 446.5H17.8M17.5 447.8V475.1M15.2 464.5H17.5M17.5 456.5H19.8M23.5 455.6V470.0M21.2 467.5H23.5M23.5 457.5H25.8M28.5 461.4V479.6M26.2 472.5H28.5M28.5 466.5H30.8M32.5 475.2V491.0M30.2 488.5H32.5M32.5 480.5H34.8M38.5 494.4V508.1M36.2 506.5H38.5M38.5 496.5H40.8M44.5 497.3V506.3M42.2 505.5H44.5M44.5 499.5H46.8M46.5 481.9V500.1M44.2 494.5H46.5M46.5 489.5H48.8M48.5 486.5V500.3M46.2 497.5H48.5M48.5 491.5H50.8M52.5 475.1V493.3M50.2 490.5H52.5M52.5 478.5H54.8M54.5 481.8V493.8M52.2 491.5H54.5M54.5 483.5H56.8M56.5 480.8V495.6M54.2 492.5H56.5M56.5 486.5H58.8M58.5 467.1V484.2M56.2 477.5H58.5M58.5 471.5H60.8M60.5 472.2V487.0M58.2 483.5H60.5M60.5 477.5H62.8M62.5 470.5V492.2M60.2 490.5H62.5M62.5 475.5H64.8M64.5 463.4V477.2M62.2 476.5H64.5M64.5 465.5H66.8M72.5 477.4V494.4M70.2 491.5H72.5M72.5 481.5H74.8M74.5 475.1V492.2M72.2 488.5H74.5M74.5 480.5H76.8M84.5 504.7V522.9M82.2 515.5H84.5M84.5 511.5H86.8M86.5 505.3V516.4M84.2 512.5H86.5M86.5 508.5H88.8M92.5 514.5V524.8M90.2 521.5H92.5M92.5 517.5H94.8M103.5 529.7V542.2M101.2 540.5H103.5M103.5 532.5H105.8M105.5 513.8V533.1M103.2 531.5H105.5M105.5 519.5H107.8M107.5 503.8V522.4M105.2 520.5H107.5M107.5 507.5H109.8M109.5 491.0V518.3M107.2 511.5H109.5M109.5 498.5H111.8M111.5 483.0V513.8M109.2 503.5H111.5M111.5 495.5H113.8M115.5 504.7V520.6M113.2 517.5H115.5M115.5 509.5H117.8M117.5 500.1V516.0M115.2 510.5H117.5M117.5 503.5H119.8M121.5 467.1V492.2M119.2 484.5H121.5M121.5 473.5H123.8M123.5 447.1V470.5M121.2 463.5H123.5M123.5 449.5H125.8M125.5 452.1V468.2M123.2 462.5H125.5M125.5 453.5H127.8M137.5 494.0V503.0M135.2 501.5H137.5M137.5 494.5H139.8M145.5 518.6V528.9M143.2 526.5H145.5M145.5 521.5H147.8M147.5 518.3V534.2M145.2 528.5H147.5M147.5 522.5H149.8M149.5 519.5V539.9M147.2 535.5H149.5M149.5 526.5H151.8M157.5 524.0V536.5M155.2 534.5H157.5M157.5 526.5H159.8M159.5 530.8V544.5M157.2 543.5H159.5M159.5 532.5H161.8M163.5 519.1V528.1M161.2 524.5H163.5M163.5 522.5H165.8M169.5 545.6V568.4M167.2 559.5H169.5M169.5 549.5H171.8M171.5 530.8V554.7M169.2 550.5H171.5M171.5 536.5H173.8M175.5 517.9V536.7M173.2 532.5H175.5M175.5 521.5H177.8M177.5 516.0V532.0M175.2 528.5H177.5M177.5 518.5H179.8M179.5 511.5V529.7M177.2 527.5H179.5M179.5 514.5H181.8M181.5 510.2V523.3M179.2 522.5H181.5M181.5 511.5H183.8M182.5 505.8V518.3M180.2 514.5H182.5M182.5 507.5H184.8M188.5 509.2V524.1M186.2 522.5H188.5M188.5 515.5H190.8M196.5 495.6V506.9M194.2 502.5H196.5M196.5 498.5H198.8M202.5 494.2V511.3M200.2 509.5H202.5M202.5 495.5H204.8M204.5 482.9V496.5M202.2 491.5H204.5M204.5 484.5H206.8M216.5 496.9V505.9M214.2 504.5H216.5M216.5 499.5H218.8M218.5 493.1V502.2M216.2 500.5H218.5M218.5 496.5H220.8M220.5 452.2V496.5M218.2 483.5H220.5M220.5 462.5H222.8M222.5 444.8V464.5M220.2 458.5H222.5M222.5 450.5H224.8M224.5 439.6V459.0M222.2 455.5H224.5M224.5 442.5H226.8M226.5 422.6V441.9M224.2 436.5H226.5M226.5 426.5H228.8M228.5 422.6V451.0M226.2 446.5H228.5M228.5 425.5H230.8M236.5 447.6V461.3M234.2 456.5H236.5M236.5 452.5H238.8M238.5 446.5V462.4M236.2 456.5H238.5M238.5 450.5H240.8M242.5 454.4V472.6M240.2 469.5H242.5M242.5 461.5H244.8M248.5 466.9V480.6M246.2 476.5H248.5M248.5 471.5H250.8M250.5 468.1V485.1M248.2 481.5H250.5M250.5 474.5H252.8M252.5 469.1V480.0M250.2 477.5H252.5M252.5 469.5H254.8M254.5 469.2V478.3M252.2 477.5H254.5M254.5 470.5H256.8M256.5 464.7V481.7M254.2 475.5H256.5M256.5 467.5H258.8M258.5 455.6V474.9M256.2 468.5H258.5M258.5 461.5H260.8M260.5 443.0V457.8M258.2 453.5H260.5M260.5 448.5H262.8M267.5 462.4V477.2M265.2 472.5H267.5M267.5 464.5H269.8M269.5 463.5V473.8M267.2 472.5H269.5M269.5 467.5H271.8M271.5 455.6V465.8M269.2 464.5H271.5M271.5 458.5H273.8M273.5 437.4V455.6M271.2 448.5H273.5M273.5 444.5H275.8M279.5 403.2V446.5M277.2 436.5H279.5M279.5 416.5H281.8M283.5 385.0V421.4M281.2 417.5H283.5M283.5 398.5H285.8M285.5 380.5V397.5M283.2 394.5H285.5M285.5 383.5H287.8M287.5 372.5V412.3M285.2 405.5H287.5M287.5 388.5H289.8M293.5 432.8V451.0M291.2 446.5H293.5M293.5 439.5H295.8M295.5 438.5V456.7M293.2 449.5H295.5M295.5 445.5H297.8M299.5 449.9V468.1M297.2 466.5H299.5M299.5 453.5H301.8M301.5 460.1V479.5M299.2 474.5H301.5M301.5 463.5H303.8M311.5 495.4V509.0M309.2 506.5H311.5M311.5 500.5H313.8M313.5 473.8V499.9M311.2 494.5H313.5M313.5 477.5H315.8M315.5 457.8V480.6M313.2 472.5H315.5M315.5 466.5H317.8M327.5 478.2V490.9M325.2 487.5H327.5M327.5 481.5H329.8M333.5 474.9V488.6M331.2 486.5H333.5M333.5 479.5H335.8M337.5 480.8V495.3M335.2 491.5H337.5M337.5 483.5H339.8M339.5 481.7V495.4M337.2 493.5H339.5M339.5 483.5H341.8M342.5 474.9V490.8M340.2 489.5H342.5M342.5 479.5H344.8M348.5 482.9V498.8M346.2 492.5H348.5M348.5 485.5H350.8M354.5 505.6V519.3M352.2 514.5H354.5M354.5 509.5H356.8M356.5 517.0V527.2M354.2 525.5H356.5M356.5 517.5H358.8M358.5 514.7V528.4M356.2 526.5H358.5M358.5 518.5H360.8M362.5 507.9V519.3M360.2 517.5H362.5M362.5 512.5H364.8M372.5 517.6V526.6M370.2 525.5H372.5M372.5 519.5H374.8M376.5 505.6V519.3M374.2 514.5H376.5M376.5 508.5H378.8M384.5 498.7V511.2M382.2 508.5H384.5M384.5 501.5H386.8M386.5 490.8V510.2M384.2 508.5H386.5M386.5 493.5H388.8M388.5 495.6V506.9M386.2 502.5H388.5M388.5 497.5H390.8M390.5 486.5V502.4M388.2 500.5H390.5M390.5 492.5H392.8M392.5 490.2V501.7M390.2 497.5H392.5M392.5 494.5H394.8M394.5 489.9V503.5M392.2 500.5H394.5M394.5 491.5H396.8M396.5 492.2V506.9M394.2 504.5H396.5M396.5 497.5H398.8M398.5 472.8V489.9M396.2 488.5H398.5M398.5 479.5H400.8M400.5 468.3V481.9M398.2 477.5H400.5M400.5 472.5H402.8M402.5 463.7V477.4M400.2 475.5H402.5M402.5 464.5H404.8M410.5 467.1V491.0M408.2 486.5H410.5M410.5 471.5H412.8M412.5 443.2V473.9M410.2 462.5H412.5M412.5 453.5H414.8M416.5 445.5V468.3M414.2 459.5H416.5M416.5 450.5H418.8M421.5 477.4V487.6M419.2 484.5H421.5M421.5 480.5H423.8M425.5 475.1V489.9M423.2 486.5H425.5M425.5 477.5H427.8M431.5 460.3V481.9M429.2 477.5H431.5M431.5 465.5H433.8M435.5 470.5V483.0M433.2 481.5H435.5M435.5 471.5H437.8M439.5 473.9V488.7M437.2 484.5H439.5M439.5 477.5H441.8M449.5 524.6V533.6M447.2 530.5H449.5M449.5 525.5H451.8M451.5 495.6V518.3M449.2 513.5H451.5M451.5 499.5H453.8M457.5 494.4V506.9M455.2 502.5H457.5M457.5 497.5H459.8M461.5 492.2V508.1M459.2 505.5H461.5M461.5 494.5H463.8M465.5 496.7V507.8M463.2 505.5H465.5M465.5 500.5H467.8M467.5 494.4V505.8M465.2 501.5H467.5M467.5 498.5H469.8M469.5 480.8V495.6M467.2 491.5H469.5M469.5 484.5H471.8M471.5 484.2V493.3M469.2 492.5H471.5M471.5 485.5H473.8M473.5 484.8V493.8M471.2 491.5H473.5M473.5 486.5H475.8M479.5 495.6V504.7M477.2 501.5H479.5M479.5 496.5H481.8M481.5 489.9V500.1M479.2 498.5H481.5M481.5 490.5H483.8M483.5 491.0V500.1M481.2 497.5H483.5M483.5 493.5H485.8M485.5 487.6V501.3M483.2 497.5H485.5M485.5 489.5H487.8M487.5 483.0V493.3M485.2 491.5H487.5M487.5 484.5H489.8M491.5 476.2V489.9M489.2 485.5H491.5M491.5 479.5H493.8M504.5 521.7V536.5M502.2 532.5H504.5M504.5 524.5H506.8M506.5 514.9V538.8M504.2 532.5H506.5M506.5 518.5H508.8M512.5 489.9V508.1M510.2 500.5H512.5M512.5 496.5H514.8M514.5 483.7V492.7M512.2 489.5H514.5M514.5 484.5H516.8M520.5 500.1V512.6M518.2 508.5H520.5M520.5 502.5H522.8M524.5 500.1V511.5M522.2 509.5H524.5M524.5 502.5H526.8M526.5 500.1V509.2M524.2 506.5H526.5M526.5 501.5H528.8M532.5 507.6V516.6M530.2 514.5H532.5M532.5 510.5H534.8M534.5 499.6V508.6M532.2 506.5H534.5M534.5 501.5H536.8M536.5 495.6V506.9M534.2 503.5H536.5M536.5 498.5H538.8M538.5 493.0V504.1M536.2 503.5H538.5M538.5 495.5H540.8M540.5 486.5V506.9M538.2 503.5H540.5M540.5 491.5H542.8M544.5 482.0V491.0M542.2 489.5H544.5M544.5 484.5H546.8M546.5 481.9V491.0M544.2 490.5H546.5M546.5 483.5H548.8M554.5 491.0V508.1M552.2 501.5H554.5M554.5 494.5H556.8M556.5 491.0V501.3M554.2 497.5H556.5M556.5 494.5H558.8M560.5 464.8V489.9M558.2 480.5H560.5M560.5 470.5H562.8M564.5 456.0V469.6M562.2 466.5H564.5M564.5 457.5H566.8M568.5 466.0V479.6M566.2 477.5H568.5M568.5 470.5H570.8M572.5 485.7V497.8M570.2 495.5H572.5M572.5 488.5H574.8M574.5 489.4V498.4M572.2 497.5H574.5M574.5 490.5H576.8M577.5 469.1V480.5M575.2 479.5H577.5M577.5 472.5H579.8M579.5 465.2V476.6M577.2 474.5H579.5M579.5 468.5H581.8M585.5 440.0V452.5M583.2 448.5H585.5M585.5 442.5H587.8M587.5 431.1V447.0M585.2 442.5H587.5M587.5 437.5H589.8M591.5 439.0V455.0M589.2 453.5H591.5M591.5 444.5H593.8M599.5 451.1V461.0M597.2 458.5H599.5M599.5 453.5H601.8M601.5 450.4V460.6M599.2 459.5H601.5M601.5 454.5H603.8M603.5 435.6V451.5M601.2 450.5H603.5M603.5 440.5H605.8M605.5 439.0V453.8M603.2 452.5H605.5M605.5 441.5H607.8M607.5 442.9V452.2M605.2 449.5H607.5M607.5 444.5H609.8M609.5 442.5V451.5M607.2 448.5H609.5M609.5 443.5H611.8M611.5 394.7V444.7M609.2 425.5H611.5M611.5 400.5H613.8M613.5 403.8V432.2M611.2 429.5H613.5M613.5 407.5H615.8M615.5 412.9V428.8M613.2 423.5H615.5M615.5 418.5H617.8M617.5 401.5V424.2M615.2 422.5H617.5M617.5 405.5H619.8M625.5 414.0V431.1M623.2 427.5H625.5M625.5 418.5H627.8M627.5 392.4V417.4M625.2 409.5H627.5M627.5 394.5H629.8M629.5 356.0V396.9M627.2 381.5H629.5M629.5 366.5H631.8M631.5 353.6V378.1M629.2 371.5H631.5M631.5 357.5H633.8M633.5 348.0V381.0M631.2 369.5H633.5M633.5 357.5H635.8M635.5 365.1V387.8M633.2 383.5H635.5M635.5 369.5H637.8M637.5 356.0V373.0M635.2 367.5H637.5M637.5 362.5H639.8M645.5 335.5V351.4M643.2 348.5H645.5M645.5 336.5H647.8M653.5 353.7V368.5M651.2 362.5H653.5M653.5 357.5H655.8M655.5 349.2V396.9M653.2 392.5H655.5M655.5 366.5H657.8M656.5 368.5V392.4M654.2 384.5H656.5M656.5 372.5H658.8M672.5 401.5V418.6M670.2 416.5H672.5M672.5 407.5H674.8M674.5 410.8V419.8M672.2 416.5H674.5M674.5 411.5H676.8M678.5 408.3V420.8M676.2 417.5H678.5M678.5 412.5H680.8M688.5 410.6V428.8M686.2 426.5H688.5M688.5 413.5H690.8M690.5 416.3V434.5M688.2 428.5H690.5M690.5 422.5H692.8M694.5 432.2V443.6M692.2 442.5H694.5M694.5 433.5H696.8M698.5 422.0V433.3M696.2 431.5H698.5M698.5 422.5H700.8M700.5 402.6V422.0M698.2 418.5H700.5M700.5 408.5H702.8M702.5 394.7V412.9M700.2 408.5H702.5M702.5 401.5H704.8M708.5 406.0V424.2M706.2 419.5H708.5M708.5 411.5H710.8M710.5 405.7V420.5M708.2 418.5H710.5M710.5 410.5H712.8M714.5 381.0V406.0M712.2 396.5H714.5M714.5 389.5H716.8M716.5 362.8V392.4M714.2 385.5H716.5M716.5 369.5H718.8M728.5 391.9V406.8M726.2 402.5H728.5M728.5 396.5H730.8M730.5 384.4V404.9M728.2 400.5H730.5M730.5 388.5H732.8M734.5 360.5V382.2M732.2 378.5H734.5M734.5 363.5H736.8M739.5 349.2V374.2M737.2 366.5H739.5M739.5 357.5H741.8M743.5 349.2V381.0M741.2 371.5H743.5M743.5 360.5H745.8M746.5 355.0V376.0M744.2 370.5H746.5M746.5 360.5H748.8M748.5 335.0V363.3M746.2 356.5H748.5M748.5 342.5H750.8M750.5 317.3V340.5M748.2 334.5H750.5M750.5 323.5H752.8M752.5 283.7V326.0M750.2 315.5H752.5M752.5 294.5H754.8M756.5 281.0V317.8M754.2 308.5H756.5M756.5 290.5H758.8M758.5 272.0V303.5M756.2 295.5H758.5M758.5 279.5H760.8M759.5 257.0V292.6M757.2 283.5H759.5M759.5 265.5H761.8M761.5 250.3V266.7M759.2 262.5H761.5M761.5 254.5H763.8M763.5 231.2V266.0M761.2 257.5H763.5M763.5 239.5H765.8M767.5 271.4V301.5M765.2 293.5H767.5M767.5 278.5H769.8M771.5 276.2V322.6M769.2 310.5H771.5M771.5 287.5H773.8" stroke="#329a8e" stroke-width="1" fill="none"/><path d="M7.5 441.6V464.5M5.2 445.5H7.5M7.5 461.5H9.8M9.5 429.6V461.4M7.2 442.5H9.5M9.5 450.5H11.8M11.5 438.0V458.5M9.2 445.5H11.5M11.5 452.5H13.8M19.5 449.0V468.9M17.2 456.5H19.5M19.5 461.5H21.8M21.5 452.3V470.5M19.2 455.5H21.5M21.5 467.5H23.8M24.5 461.4V477.4M22.2 467.5H24.5M24.5 471.5H26.8M26.5 462.0V474.4M24.2 465.5H26.5M26.5 470.5H28.8M30.5 470.5V487.6M28.2 475.5H30.5M30.5 483.5H32.8M34.5 485.3V501.3M32.2 491.5H34.5M34.5 497.5H36.8M36.5 490.6V501.9M34.2 494.5H36.5M36.5 498.5H38.8M40.5 497.8V514.9M38.2 503.5H40.5M40.5 512.5H42.8M42.5 498.3V511.0M40.2 503.5H42.5M42.5 507.5H44.8M50.5 486.5V502.4M48.2 491.5H50.5M50.5 500.5H52.8M66.5 456.4V472.8M64.2 458.5H66.5M66.5 469.5H68.8M68.5 460.3V478.5M66.2 464.5H68.5M68.5 475.5H70.8M70.5 470.8V487.3M68.2 475.5H70.5M70.5 481.5H72.8M76.5 485.6V498.3M74.2 489.5H76.5M76.5 493.5H78.8M78.5 494.4V506.9M76.2 497.5H78.5M78.5 503.5H80.8M80.5 503.5V527.4M78.2 510.5H80.5M80.5 522.5H82.8M82.5 506.8V524.1M80.2 510.5H82.5M82.5 517.5H84.8M88.5 501.3V513.8M86.2 502.5H88.5M88.5 512.5H90.8M90.5 511.5V524.0M88.2 512.5H90.5M90.5 522.5H92.8M94.5 518.3V533.1M92.2 520.5H94.5M94.5 528.5H96.8M96.5 509.2V534.2M94.2 512.5H96.5M96.5 525.5H98.8M98.5 517.8V534.3M96.2 520.5H98.5M98.5 527.5H100.8M100.5 524.0V536.5M98.2 526.5H100.5M100.5 531.5H102.8M102.5 526.9V537.8M100.2 528.5H102.5M102.5 535.5H104.8M113.5 499.6V518.8M111.2 501.5H113.5M113.5 515.5H115.8M119.5 486.5V495.6M117.2 487.5H119.5M119.5 494.5H121.8M127.5 456.9V470.5M125.2 461.5H127.5M127.5 469.5H129.8M129.5 464.8V477.4M127.2 466.5H129.5M129.5 472.5H131.8M131.5 478.5V488.7M129.2 480.5H131.5M131.5 486.5H133.8M133.5 474.7V487.9M131.2 476.5H133.5M133.5 486.5H135.8M135.5 471.7V497.8M133.2 475.5H135.5M135.5 494.5H137.8M139.5 495.6V511.5M137.2 498.5H139.5M139.5 506.5H141.8M141.5 488.7V502.4M139.2 492.5H141.5M141.5 500.5H143.8M143.5 512.6V525.1M141.2 513.5H143.5M143.5 523.5H145.8M151.5 511.5V524.0M149.2 515.5H151.5M151.5 521.5H153.8M153.5 518.3V536.5M151.2 523.5H153.5M153.5 529.5H155.8M155.5 520.8V535.6M153.2 525.5H155.5M155.5 531.5H157.8M161.5 513.8V524.0M159.2 515.5H161.5M161.5 522.5H163.8M165.5 524.0V534.2M163.2 525.5H165.5M165.5 532.5H167.8M167.5 534.2V574.7M165.2 543.5H167.5M167.5 569.5H169.8M173.5 521.7V546.8M171.2 526.5H173.5M173.5 541.5H175.8M184.5 504.7V513.8M182.2 507.5H184.5M184.5 511.5H186.8M186.5 509.2V525.1M184.2 514.5H186.5M186.5 521.5H188.8M190.5 499.0V522.9M188.2 505.5H190.5M190.5 520.5H192.8M192.5 502.9V520.8M190.2 509.5H192.5M192.5 515.5H194.8M194.5 502.4V519.5M192.2 508.5H194.5M194.5 517.5H196.8M198.5 492.0V507.9M196.2 497.5H198.5M198.5 503.5H200.8M200.5 494.6V508.3M198.2 498.5H200.5M200.5 504.5H202.8M206.5 488.7V508.6M204.2 494.5H206.5M206.5 503.5H208.8M208.5 489.7V514.7M206.2 495.5H208.5M208.5 512.5H210.8M210.5 503.3V515.9M208.2 507.5H210.5M210.5 512.5H212.8M212.5 498.8V528.4M210.2 507.5H212.5M212.5 525.5H214.8M214.5 500.6V509.6M212.2 501.5H214.5M214.5 508.5H216.8M230.5 431.7V457.8M228.2 439.5H230.5M230.5 450.5H232.8M232.5 437.7V457.3M230.2 442.5H232.5M232.5 452.5H234.8M234.5 441.9V455.6M232.2 443.5H234.5M234.5 450.5H236.8M240.5 444.2V460.1M238.2 447.5H240.5M240.5 457.5H242.8M244.5 465.8V487.4M242.2 468.5H244.5M244.5 482.5H246.8M246.5 469.7V484.2M244.2 471.5H246.5M246.5 479.5H248.8M261.5 437.4V448.7M259.2 439.5H261.5M261.5 446.5H263.8M263.5 441.5V454.5M261.2 446.5H263.5M263.5 450.5H265.8M265.5 446.5V465.8M263.2 450.5H265.5M265.5 462.5H267.8M275.5 435.1V453.3M273.2 440.5H275.5M275.5 446.5H277.8M277.5 438.5V452.2M275.2 441.5H277.5M277.5 447.5H279.8M281.5 395.8V424.9M279.2 404.5H281.5M281.5 419.5H283.8M289.5 411.2V428.3M287.2 414.5H289.5M289.5 423.5H291.8M291.5 422.6V438.5M289.2 424.5H291.5M291.5 436.5H293.8M297.5 442.5V459.5M295.2 444.5H297.5M297.5 457.5H299.8M303.5 471.5V490.8M301.2 477.5H303.5M303.5 486.5H305.8M305.5 484.0V498.8M303.2 487.5H305.5M305.5 495.5H307.8M307.5 496.5V512.4M305.2 498.5H307.5M307.5 509.5H309.8M309.5 505.6V520.4M307.2 507.5H309.5M309.5 516.5H311.8M317.5 457.8V473.5M315.2 459.5H317.5M317.5 472.5H319.8M319.5 456.7V473.8M317.2 462.5H319.5M319.5 469.5H321.8M321.5 456.7V472.6M319.2 457.5H321.5M321.5 469.5H323.8M323.5 469.2V488.6M321.2 475.5H323.5M323.5 481.5H325.8M325.5 478.3V492.0M323.2 480.5H325.5M325.5 490.5H327.8M329.5 478.3V490.8M327.2 482.5H329.5M329.5 487.5H331.8M331.5 475.7V486.8M329.2 478.5H331.5M331.5 483.5H333.8M335.5 479.5V495.4M333.2 484.5H335.5M335.5 492.5H337.8M340.5 478.7V493.2M338.2 482.5H340.5M340.5 490.5H342.8M344.5 481.7V496.5M342.2 485.5H344.5M344.5 490.5H346.8M346.5 466.9V487.4M344.2 474.5H346.5M346.5 482.5H348.8M350.5 490.6V501.0M348.2 492.5H350.5M350.5 500.5H352.8M352.5 495.4V505.6M350.2 498.5H352.5M352.5 503.5H354.8M360.5 510.1V521.8M358.2 513.5H360.5M360.5 518.5H362.8M364.5 499.2V511.3M362.2 501.5H364.5M364.5 509.5H366.8M366.5 507.9V522.7M364.2 510.5H366.5M366.5 516.5H368.8M368.5 517.0V529.5M366.2 518.5H368.5M368.5 527.5H370.8M370.5 519.2V528.2M368.2 521.5H370.5M370.5 524.5H372.8M374.5 513.1V522.1M372.2 514.5H374.5M374.5 521.5H376.8M378.5 507.8V517.0M376.2 510.5H378.5M378.5 513.5H380.8M380.5 509.0V519.3M378.2 510.5H380.5M380.5 517.5H382.8M382.5 507.9V517.0M380.2 510.5H382.5M382.5 516.5H384.8M404.5 485.3V494.4M402.2 486.5H404.5M404.5 491.5H406.8M406.5 485.2V494.2M404.2 486.5H406.5M406.5 492.5H408.8M408.5 487.6V496.7M406.2 490.5H408.5M408.5 495.5H410.8M414.5 445.2V468.6M412.2 454.5H414.5M414.5 466.5H416.8M418.5 466.0V476.2M416.2 468.5H418.5M418.5 474.5H420.8M419.5 467.1V478.5M417.2 469.5H419.5M419.5 474.5H421.8M423.5 471.7V486.5M421.2 476.5H423.5M423.5 482.5H425.8M427.5 479.0V490.7M425.2 480.5H427.5M427.5 489.5H429.8M429.5 478.5V489.9M427.2 480.5H429.5M429.5 488.5H431.8M433.5 464.8V478.5M431.2 469.5H433.5M433.5 473.5H435.8M437.5 472.8V484.2M435.2 476.5H437.5M437.5 481.5H439.8M441.5 483.0V506.9M439.2 490.5H441.5M441.5 498.5H443.8M443.5 497.3V511.2M441.2 498.5H443.5M443.5 506.5H445.8M445.5 504.7V519.5M443.2 508.5H445.5M445.5 516.5H447.8M447.5 512.6V527.4M445.2 514.5H447.5M447.5 525.5H449.8M453.5 495.6V505.8M451.2 498.5H453.5M453.5 504.5H455.8M455.5 492.2V506.9M453.2 496.5H455.5M455.5 501.5H457.8M459.5 495.4V508.2M457.2 500.5H459.5M459.5 506.5H461.8M463.5 496.7V509.2M461.2 500.5H463.5M463.5 504.5H465.8M475.5 491.6V500.6M473.2 492.5H475.5M475.5 499.5H477.8M477.5 493.6V502.6M475.2 496.5H477.5M477.5 501.5H479.8M489.5 479.4V489.9M487.2 481.5H489.5M489.5 487.5H491.8M493.5 472.9V481.9M491.2 474.5H493.5M493.5 480.5H495.8M495.5 476.2V487.6M493.2 477.5H495.5M495.5 486.5H497.8M497.5 484.2V512.6M495.2 490.5H497.5M497.5 502.5H499.8M498.5 511.5V525.1M496.2 516.5H498.5M498.5 522.5H500.8M500.5 516.0V542.2M498.2 518.5H500.5M500.5 535.5H502.8M502.5 519.8V534.2M500.2 525.5H502.5M502.5 532.5H504.8M508.5 518.3V533.1M506.2 520.5H508.5M508.5 529.5H510.8M510.5 497.8V525.1M508.2 508.5H510.5M510.5 521.5H512.8M516.5 488.7V502.4M514.2 493.5H516.5M516.5 498.5H518.8M518.5 494.9V504.7M516.2 496.5H518.5M518.5 501.5H520.8M522.5 503.5V514.9M520.2 505.5H522.5M522.5 513.5H524.8M528.5 496.7V509.2M526.2 497.5H528.5M528.5 505.5H530.8M530.5 501.3V511.5M528.2 502.5H530.5M530.5 507.5H532.8M542.5 483.0V494.4M540.2 486.5H542.5M542.5 491.5H544.8M548.5 487.6V506.9M546.2 492.5H548.5M548.5 505.5H550.8M550.5 497.8V509.2M548.2 499.5H550.5M550.5 505.5H552.8M552.5 495.1V505.4M550.2 497.5H552.5M552.5 504.5H554.8M558.5 486.5V497.8M556.2 490.5H558.5M558.5 496.5H560.8M562.5 453.5V472.8M560.2 456.5H562.5M562.5 466.5H564.8M566.5 459.2V472.8M564.2 460.5H566.5M566.5 467.5H568.8M570.5 483.7V492.7M568.2 487.5H570.5M570.5 491.5H572.8M576.5 477.7V490.2M574.2 481.5H576.5M576.5 485.5H578.8M581.5 461.8V475.4M579.2 465.5H581.5M581.5 471.5H583.8M583.5 447.0V465.2M581.2 449.5H583.5M583.5 457.5H585.8M589.5 431.1V444.7M587.2 435.5H589.5M589.5 441.5H591.8M593.5 444.0V455.7M591.2 445.5H593.5M593.5 452.5H595.8M595.5 450.4V462.9M593.2 453.5H595.5M595.5 459.5H597.8M597.5 449.3V465.2M595.2 450.5H597.5M597.5 463.5H599.8M619.5 406.5V422.6M617.2 410.5H619.5M619.5 419.5H621.8M621.5 408.3V424.2M619.2 411.5H621.5M621.5 418.5H623.8M623.5 417.4V429.9M621.2 419.5H623.5M623.5 425.5H625.8M639.5 329.8V359.4M637.2 332.5H639.5M639.5 349.5H641.8M641.5 340.5V358.1M639.2 344.5H641.5M641.5 352.5H643.8M643.5 344.6V362.8M641.2 347.5H643.5M643.5 360.5H645.8M647.5 338.9V360.5M645.2 345.5H647.5M647.5 352.5H649.8M649.5 356.0V371.9M647.2 358.5H649.5M649.5 367.5H651.8M651.5 357.9V369.4M649.2 361.5H651.5M651.5 366.5H653.8M658.5 375.3V399.2M656.2 382.5H658.5M658.5 394.5H660.8M660.5 373.7V396.0M658.2 377.5H660.5M660.5 392.5H662.8M662.5 377.6V398.1M660.2 383.5H662.5M662.5 391.5H664.8M664.5 390.1V403.8M662.2 395.5H664.5M664.5 400.5H666.8M666.5 399.2V415.1M664.2 404.5H666.5M666.5 409.5H668.8M668.5 403.0V417.1M666.2 407.5H668.5M668.5 413.5H670.8M670.5 401.5V423.1M668.2 404.5H670.5M670.5 417.5H672.8M676.5 413.5V422.5M674.2 414.5H676.5M676.5 421.5H678.8M680.5 414.0V429.9M678.2 419.5H680.5M680.5 428.5H682.8M682.5 414.0V428.8M680.2 416.5H682.5M682.5 423.5H684.8M684.5 419.7V435.6M682.2 425.5H684.5M684.5 434.5H686.8M686.5 423.1V432.2M684.2 426.5H686.5M686.5 428.5H688.8M692.5 431.1V442.4M690.2 434.5H692.5M692.5 439.5H694.8M696.5 426.5V439.0M694.2 428.5H696.5M696.5 436.5H698.8M704.5 401.5V417.4M702.2 405.5H704.5M704.5 415.5H706.8M706.5 412.9V429.9M704.2 416.5H706.5M706.5 424.5H708.8M712.5 404.9V416.3M710.2 406.5H712.5M712.5 415.5H714.8M718.5 373.0V384.4M716.2 374.5H718.5M718.5 381.5H720.8M720.5 375.3V391.3M718.2 380.5H720.5M720.5 388.5H722.8M722.5 386.7V401.5M720.2 389.5H722.5M722.5 399.5H724.8M724.5 395.8V410.6M722.2 399.5H724.5M724.5 408.5H726.8M726.5 394.7V407.2M724.2 395.5H726.5M726.5 403.5H728.8M732.5 367.4V387.8M730.2 369.5H732.5M732.5 380.5H734.8M735.5 361.7V370.8M733.2 363.5H735.5M735.5 368.5H737.8M737.5 342.3V367.4M735.2 346.5H737.5M737.5 361.5H739.8M741.5 350.6V367.2M739.2 353.5H741.5M741.5 364.5H743.8M754.5 272.8V306.2M752.2 281.5H754.5M754.5 297.5H756.8M765.5 232.5V284.4M763.2 245.5H765.5M765.5 271.5H767.8M769.5 273.5V316.5M767.2 284.5H769.5M769.5 305.5H771.8M773.5 278.3V297.4M771.2 283.5H773.5M773.5 292.5H775.8M775.5 287.1V313.0M773.2 290.5H775.5M775.5 294.5H777.8" stroke="#d65c5c" stroke-width="1" fill="none"/>
<line x1="540.3" y1="482" x2="566" y2="450.5" stroke="#e2506a" stroke-width="1.1"/>
<line x1="534" y1="515.2" x2="599.5" y2="493.3" stroke="#e2506a" stroke-width="1.1"/>
<polyline points="741.8,402 850.2,181.5 905.5,266.6 981.3,110.9 1035.7,230 1069,166" fill="none" stroke="#000" stroke-width="2.05" stroke-linejoin="miter" stroke-linecap="butt"/>
<g clip-path="url(#mainclip)">
<circle cx="7.9" cy="399.6" r="10.85" fill="none" stroke="#1f937e" stroke-width="1"/><text transform="translate(7.9 404.6) scale(1.1 1)" font-size="14.3" fill="#1f937e" stroke="#1f937e" stroke-width="0.3" text-anchor="middle">ii</text>
<circle cx="124.6" cy="419.5" r="10.85" fill="none" stroke="#1f937e" stroke-width="1"/><text transform="translate(124.6 424.5) scale(1.1 1)" font-size="14.3" fill="#1f937e" stroke="#1f937e" stroke-width="0.3" text-anchor="middle">iv</text>
<circle cx="106.4" cy="557.6" r="10.85" fill="none" stroke="#1f937e" stroke-width="1"/><text transform="translate(106.4 562.6) scale(1.1 1)" font-size="14.3" fill="#1f937e" stroke="#1f937e" stroke-width="0.3" text-anchor="middle">iii</text>
<circle cx="167.5" cy="592.3" r="10.85" fill="none" stroke="#1f937e" stroke-width="1"/><text transform="translate(167.5 597.3) scale(1.1 1)" font-size="14.3" fill="#1f937e" stroke="#1f937e" stroke-width="0.3" text-anchor="middle">v</text>
<circle cx="319.3" cy="434.5" r="10.85" fill="none" stroke="#1f937e" stroke-width="1"/><text transform="translate(319.3 439.5) scale(1.1 1)" font-size="14.3" fill="#1f937e" stroke="#1f937e" stroke-width="0.3" text-anchor="middle">a</text>
<circle cx="357.5" cy="547.5" r="10.85" fill="none" stroke="#1f937e" stroke-width="1"/><text transform="translate(357.5 552.5) scale(1.1 1)" font-size="14.3" fill="#1f937e" stroke="#1f937e" stroke-width="0.3" text-anchor="middle">b</text>
<circle cx="412.6" cy="430" r="10.85" fill="none" stroke="#1f937e" stroke-width="1"/><text transform="translate(412.6 435.0) scale(1.1 1)" font-size="14.3" fill="#1f937e" stroke="#1f937e" stroke-width="0.3" text-anchor="middle">c</text>
<circle cx="513.7" cy="459.5" r="10.85" fill="none" stroke="#1f937e" stroke-width="1"/><text transform="translate(513.7 464.5) scale(1.1 1)" font-size="14.3" fill="#1f937e" stroke="#1f937e" stroke-width="0.3" text-anchor="middle">i</text>
<circle cx="572.3" cy="519.2" r="10.85" fill="none" stroke="#1f937e" stroke-width="1"/><text transform="translate(572.3 524.2) scale(1.1 1)" font-size="14.3" fill="#1f937e" stroke="#1f937e" stroke-width="0.3" text-anchor="middle">ii</text>
<circle cx="611.5" cy="383.8" r="10.85" fill="none" stroke="#1f937e" stroke-width="1"/><text transform="translate(611.5 388.8) scale(1.1 1)" font-size="14.3" fill="#1f937e" stroke="#1f937e" stroke-width="0.3" text-anchor="middle">iii</text>
<circle cx="625.4" cy="452.5" r="10.85" fill="none" stroke="#1f937e" stroke-width="1"/><text transform="translate(625.4 457.5) scale(1.1 1)" font-size="14.3" fill="#1f937e" stroke="#1f937e" stroke-width="0.3" text-anchor="middle">iv</text>
<circle cx="639.4" cy="317.4" r="10.85" fill="none" stroke="#1f937e" stroke-width="1"/><text transform="translate(639.4 322.4) scale(1.1 1)" font-size="14.3" fill="#1f937e" stroke="#1f937e" stroke-width="0.3" text-anchor="middle">v</text>
<circle cx="712.3" cy="347.6" r="10.85" fill="none" stroke="#1f937e" stroke-width="1"/><text transform="translate(712.3 352.6) scale(1.1 1)" font-size="14.3" fill="#1f937e" stroke="#1f937e" stroke-width="0.3" text-anchor="middle">i</text>
<circle cx="728.5" cy="429.3" r="10.85" fill="none" stroke="#1f937e" stroke-width="1"/><text transform="translate(728.5 434.3) scale(1.1 1)" font-size="14.3" fill="#1f937e" stroke="#1f937e" stroke-width="0.3" text-anchor="middle">ii</text>
<circle cx="850.4" cy="162.4" r="10.85" fill="none" stroke="#1f937e" stroke-width="1"/><text transform="translate(850.4 167.4) scale(1.1 1)" font-size="14.3" fill="#1f937e" stroke="#1f937e" stroke-width="0.3" text-anchor="middle">iii</text>
<circle cx="908.1" cy="288.5" r="10.85" fill="none" stroke="#1f937e" stroke-width="1"/><text transform="translate(908.1 293.5) scale(1.1 1)" font-size="14.3" fill="#1f937e" stroke="#1f937e" stroke-width="0.3" text-anchor="middle">iv</text>
<circle cx="985.5" cy="94.6" r="10.85" fill="none" stroke="#1f937e" stroke-width="1"/><text transform="translate(985.5 99.6) scale(1.1 1)" font-size="14.3" fill="#1f937e" stroke="#1f937e" stroke-width="0.3" text-anchor="middle">v</text>
<circle cx="167.5" cy="645.6" r="10.85" fill="none" stroke="#9c27b0" stroke-width="1"/><text transform="translate(167.5 650.8000000000001) scale(0.92 1)" font-size="17" fill="#9c27b0" stroke="#9c27b0" stroke-width="0.3" text-anchor="middle">2</text>
<text transform="translate(167.5 617.8) scale(0.9 1)" font-size="18" fill="#e2364c" stroke="#e2364c" stroke-width="0.35" text-anchor="middle">5</text>
<text transform="translate(205.2 471.3) scale(0.9 1)" font-size="18" fill="#e2364c" stroke="#e2364c" stroke-width="0.35" text-anchor="middle">1</text>
<text transform="translate(214.3 553.0999999999999) scale(0.9 1)" font-size="18" fill="#e2364c" stroke="#e2364c" stroke-width="0.35" text-anchor="middle">2</text>
<text transform="translate(228.5 411.0) scale(0.9 1)" font-size="18" fill="#e2364c" stroke="#e2364c" stroke-width="0.35" text-anchor="middle">3</text>
<text transform="translate(242.9 510.3) scale(0.9 1)" font-size="18" fill="#e2364c" stroke="#e2364c" stroke-width="0.35" text-anchor="middle">4</text>
<text transform="translate(286.7 359.3) scale(0.9 1)" font-size="18" fill="#e2364c" stroke="#e2364c" stroke-width="0.35" text-anchor="middle">5</text>
<text transform="translate(309.9 545.5) scale(0.9 1)" font-size="18" fill="#e2364c" stroke="#e2364c" stroke-width="0.35" text-anchor="middle">A</text>
<text transform="translate(414.5 416.6) scale(0.9 1)" font-size="18" fill="#e2364c" stroke="#e2364c" stroke-width="0.35" text-anchor="middle">B</text>
<text transform="translate(501.1 569.5999999999999) scale(0.9 1)" font-size="18" fill="#e2364c" stroke="#e2364c" stroke-width="0.35" text-anchor="middle">C</text>
<text transform="translate(637.2 305.3) scale(0.9 1)" font-size="18" fill="#e2364c" stroke="#e2364c" stroke-width="0.35" text-anchor="middle">1</text>
<text transform="translate(694.1 470.3) scale(0.9 1)" font-size="18" fill="#e2364c" stroke="#e2364c" stroke-width="0.35" text-anchor="middle">2</text>
<text transform="translate(983.3 78.3) scale(0.9 1)" font-size="18" fill="#e2364c" stroke="#e2364c" stroke-width="0.35" text-anchor="middle">3</text>
<text transform="translate(1032.7 251.3) scale(0.9 1)" font-size="18" fill="#e2364c" stroke="#e2364c" stroke-width="0.35" text-anchor="middle">4</text>
<text transform="translate(167.5 631.2) scale(0.92 1)" font-size="17.5" fill="#2a3fd6" stroke="#2a3fd6" stroke-width="0.35" text-anchor="middle">(C)</text>
<text transform="translate(286.7 349.5) scale(0.92 1)" font-size="17.5" fill="#2a3fd6" stroke="#2a3fd6" stroke-width="0.35" text-anchor="middle">(1)</text>
<text transform="translate(501.5 588.0) scale(0.92 1)" font-size="17.5" fill="#2a3fd6" stroke="#2a3fd6" stroke-width="0.35" text-anchor="middle">(2)</text>
<g transform="translate(82 661.4)" fill="none" stroke="#5a30e0" stroke-width="1.6" stroke-linecap="round" stroke-linejoin="round"><circle r="9.65" stroke-width="1.5"/><path d="M-5 -3.8L-0.7 0H6.1M2.9 -3.1L6.2 0L2.9 3.2M-5.2 4.7L-2.8 2.1"/></g>
<g transform="translate(207 661.4)" fill="none" stroke="#5a30e0" stroke-width="1.6" stroke-linecap="round" stroke-linejoin="round"><circle r="9.65" stroke-width="1.5"/><path d="M-5 -3.8L-0.7 0H6.1M2.9 -3.1L6.2 0L2.9 3.2M-5.2 4.7L-2.8 2.1"/></g>
<g transform="translate(331 661.4)" fill="none" stroke="#5a30e0" stroke-width="1.6" stroke-linecap="round" stroke-linejoin="round"><circle r="9.65" stroke-width="1.5"/><path d="M-5 -3.8L-0.7 0H6.1M2.9 -3.1L6.2 0L2.9 3.2M-5.2 4.7L-2.8 2.1"/></g>
<g transform="translate(451 661.4)" fill="none" stroke="#5a30e0" stroke-width="1.6" stroke-linecap="round" stroke-linejoin="round"><circle r="9.65" stroke-width="1.5"/><path d="M-5 -3.8L-0.7 0H6.1M2.9 -3.1L6.2 0L2.9 3.2M-5.2 4.7L-2.8 2.1"/></g>
<g transform="translate(576 661.4)" fill="none" stroke="#5a30e0" stroke-width="1.6" stroke-linecap="round" stroke-linejoin="round"><circle r="9.65" stroke-width="1.5"/><path d="M-5 -3.8L-0.7 0H6.1M2.9 -3.1L6.2 0L2.9 3.2M-5.2 4.7L-2.8 2.1"/></g>
<g transform="translate(700.5 661.4)" fill="none" stroke="#5a30e0" stroke-width="1.6" stroke-linecap="round" stroke-linejoin="round"><circle r="9.65" stroke-width="1.5"/><path d="M-5 -3.8L-0.7 0H6.1M2.9 -3.1L6.2 0L2.9 3.2M-5.2 4.7L-2.8 2.1"/></g>
<g transform="translate(825.5 661.4)" fill="none" stroke="#5a30e0" stroke-width="1.6" stroke-linecap="round" stroke-linejoin="round"><circle r="9.65" stroke-width="1.5"/><path d="M-5 -3.8L-0.7 0H6.1M2.9 -3.1L6.2 0L2.9 3.2M-5.2 4.7L-2.8 2.1"/></g>
<g transform="translate(945 661.4)" fill="none" stroke="#5a30e0" stroke-width="1.6" stroke-linecap="round" stroke-linejoin="round"><circle r="9.65" stroke-width="1.5"/><path d="M-5 -3.8L-0.7 0H6.1M2.9 -3.1L6.2 0L2.9 3.2M-5.2 4.7L-2.8 2.1"/></g>
<g transform="translate(1068.5 661.4)" fill="none" stroke="#5a30e0" stroke-width="1.6" stroke-linecap="round" stroke-linejoin="round"><circle r="9.65" stroke-width="1.5"/><path d="M-5 -3.8L-0.7 0H6.1M2.9 -3.1L6.2 0L2.9 3.2M-5.2 4.7L-2.8 2.1"/></g>
<g transform="translate(775.5 661.4)"><circle r="9.65" fill="none" stroke="#8e24aa" stroke-width="1.5"/><path d="M3.1 -5.3L-4.1 0.6H-0.3L-3.2 5.3L4.1 -0.6H0.5Z" fill="#8e24aa"/></g>
</g>
<rect x="4" y="674" width="1125" height="1.2" fill="#000"/>
<rect x="4" y="744" width="1125" height="1.2" fill="#000"/>
<path d="M1069.5 42V873M4 845.5H1129M4 873.5H1129" stroke="#e0e0e0" stroke-width="1" fill="none"/>
<text x="1078.2" y="134.0" font-size="12" fill="#131722" textLength="40.1" lengthAdjust="spacingAndGlyphs">2.100,0</text>
<text x="1078.2" y="181.3" font-size="12" fill="#131722" textLength="40.1" lengthAdjust="spacingAndGlyphs">1.900,0</text>
<text x="1078.2" y="233.0" font-size="12" fill="#131722" textLength="40.1" lengthAdjust="spacingAndGlyphs">1.700,0</text>
<text x="1078.2" y="275.8" font-size="12" fill="#131722" textLength="40.1" lengthAdjust="spacingAndGlyphs">1.550,0</text>
<text x="1078.2" y="307.8" font-size="12" fill="#131722" textLength="40.1" lengthAdjust="spacingAndGlyphs">1.450,0</text>
<text x="1078.2" y="348.0" font-size="12" fill="#131722" textLength="40.1" lengthAdjust="spacingAndGlyphs">1.330,0</text>
<text x="1078.2" y="392.1" font-size="12" fill="#131722" textLength="40.1" lengthAdjust="spacingAndGlyphs">1.210,0</text>
<text x="1078.2" y="424.3" font-size="12" fill="#131722" textLength="40.1" lengthAdjust="spacingAndGlyphs">1.130,0</text>
<text x="1078.2" y="533.9" font-size="12" fill="#131722" textLength="29.2" lengthAdjust="spacingAndGlyphs">895,0</text>
<text x="1078.2" y="566.1999999999999" font-size="12" fill="#131722" textLength="29.2" lengthAdjust="spacingAndGlyphs">835,0</text>
<text x="1078.2" y="600.6999999999999" font-size="12" fill="#131722" textLength="29.2" lengthAdjust="spacingAndGlyphs">775,0</text>
<text x="1078.2" y="632.1999999999999" font-size="12" fill="#131722" textLength="29.2" lengthAdjust="spacingAndGlyphs">725,0</text>
<text x="1078.2" y="665.0" font-size="12" fill="#131722" textLength="29.2" lengthAdjust="spacingAndGlyphs">677,0</text>
<text x="1078.2" y="758.8" font-size="12" fill="#131722" textLength="21.9" lengthAdjust="spacingAndGlyphs">10,0</text>
<rect x="1070" y="173" width="54" height="16.5" rx="2" fill="#000"/><text x="1079" y="185.55" font-size="12" font-weight="bold" fill="#fff" textLength="39.3" lengthAdjust="spacingAndGlyphs">1.883,5</text>
<rect x="1016" y="286.5" width="53" height="16.5" rx="2" fill="#ef5350"/><text x="1020.9" y="299.05" font-size="12" font-weight="bold" fill="#fff" textLength="43.7" lengthAdjust="spacingAndGlyphs">PAZ2025</text>
<rect x="1070" y="286.5" width="54" height="16.5" rx="2" fill="#ef5350"/><text x="1079" y="299.05" font-size="12" font-weight="bold" fill="#fff" textLength="39.3" lengthAdjust="spacingAndGlyphs">1.481,0</text>
<rect x="1070" y="394" width="54" height="16.5" rx="2" fill="#000"/><text x="1079" y="406.55" font-size="12" font-weight="bold" fill="#fff" textLength="39.3" lengthAdjust="spacingAndGlyphs">1.176,0</text>
<rect x="1070" y="442" width="54" height="16.5" rx="2" fill="#f23645"/><text x="1079" y="454.55" font-size="12" font-weight="bold" fill="#fff" textLength="39.3" lengthAdjust="spacingAndGlyphs">1.061,5</text>
<rect x="1070" y="474" width="43" height="16.5" rx="2" fill="#f23645"/><text x="1078.2" y="486.55" font-size="12" font-weight="bold" fill="#fff" textLength="29.2" lengthAdjust="spacingAndGlyphs">991,0</text>
<rect x="1070" y="490.5" width="43" height="17.0" rx="2" fill="#f23645"/><text x="1078.2" y="503.3" font-size="12" font-weight="bold" fill="#fff" textLength="29.2" lengthAdjust="spacingAndGlyphs">969,5</text>
<rect x="1070" y="507.5" width="43" height="17.0" rx="2" fill="#f23645"/><text x="1078.2" y="520.3" font-size="12" font-weight="bold" fill="#fff" textLength="29.2" lengthAdjust="spacingAndGlyphs">923,5</text>
<g clip-path="url(#rsiclip)">
<rect x="1054.2" y="670" width="14.799999999999955" height="16.700000000000045" rx="2" fill="#363a45"/><text x="1058.8" y="682.65" font-size="12" font-weight="bold" fill="#fff" textLength="5.8" lengthAdjust="spacingAndGlyphs">E</text>
<rect x="1070" y="670" width="43" height="16.700000000000045" rx="2" fill="#363a45"/><text x="1078.2" y="682.65" font-size="12" font-weight="bold" fill="#fff" textLength="29.2" lengthAdjust="spacingAndGlyphs">62,08</text>
</g>
<rect x="1055" y="687.3" width="14" height="16.700000000000045" rx="2" fill="#9c27b0"/><text x="1059.1" y="699.9499999999999" font-size="12" font-weight="bold" fill="#fff" textLength="6.0" lengthAdjust="spacingAndGlyphs">S</text>
<rect x="1070" y="687.3" width="43" height="16.700000000000045" rx="2" fill="#9c27b0"/><text x="1078.2" y="699.9499999999999" font-size="12" font-weight="bold" fill="#fff" textLength="29.2" lengthAdjust="spacingAndGlyphs">57,09</text>
<rect x="1025.1" y="704" width="43.90000000000009" height="17" rx="2" fill="#3a2fb5"/><text x="1030" y="716.8" font-size="12" font-weight="bold" fill="#fff" textLength="35.1" lengthAdjust="spacingAndGlyphs">JK_RSI</text>
<rect x="1070" y="704" width="43" height="17" rx="2" fill="#3a2fb5"/><text x="1078.2" y="716.8" font-size="12" font-weight="bold" fill="#fff" textLength="29.2" lengthAdjust="spacingAndGlyphs">56,53</text>
<rect x="1048.2" y="721" width="20.799999999999955" height="16.700000000000045" rx="2" fill="#1a3cc2"/><text x="1052.8" y="733.65" font-size="12" font-weight="bold" fill="#fff" textLength="12.3" lengthAdjust="spacingAndGlyphs">50</text>
<rect x="1070" y="721" width="43" height="16.700000000000045" rx="2" fill="#1a3cc2"/><text x="1078.2" y="733.65" font-size="12" font-weight="bold" fill="#fff" textLength="29.2" lengthAdjust="spacingAndGlyphs">50,00</text>
<rect x="1022.2" y="776.4" width="46.799999999999955" height="15.899999999999977" rx="2" fill="#2962ff"/><text x="1026" y="788.6499999999999" font-size="12" font-weight="bold" fill="#fff" textLength="39.0" lengthAdjust="spacingAndGlyphs">Pista_C</text>
<rect x="1070" y="776.4" width="29.700000000000045" height="15.899999999999977" rx="2" fill="#2962ff"/><text x="1078.2" y="788.6499999999999" font-size="12" font-weight="bold" fill="#fff" textLength="16.8" lengthAdjust="spacingAndGlyphs">0,8</text>
<rect x="1006" y="793.2" width="63" height="16.5" rx="2" fill="#b2dfdb"/><text x="1010.9" y="805.75" font-size="12" font-weight="normal" fill="#131722" textLength="53.7" lengthAdjust="spacingAndGlyphs">Histogram</text>
<rect x="1070" y="793.2" width="29.700000000000045" height="16.5" rx="2" fill="#b2dfdb"/><text x="1078.2" y="805.75" font-size="12" font-weight="normal" fill="#131722" textLength="16.8" lengthAdjust="spacingAndGlyphs">0,8</text>
<rect x="1014.2" y="810.1" width="54.799999999999955" height="16.399999999999977" rx="2" fill="#4caf50"/><text x="1018.7" y="822.5999999999999" font-size="12" font-weight="bold" fill="#fff" textLength="45.9" lengthAdjust="spacingAndGlyphs">ZeroLine</text>
<rect x="1070" y="810.1" width="29.700000000000045" height="16.399999999999977" rx="2" fill="#4caf50"/><text x="1078.2" y="822.5999999999999" font-size="12" font-weight="bold" fill="#fff" textLength="16.8" lengthAdjust="spacingAndGlyphs">0,0</text>
<path d="M1069.5 670V830" stroke="#ffffff" stroke-opacity="0.6" stroke-width="1"/>
<text x="27.9" y="862.9" font-size="12" fill="#131722" textLength="20.9" lengthAdjust="spacingAndGlyphs">Mag</text>
<text x="110.7" y="862.9" font-size="12" fill="#131722" textLength="18.2" lengthAdjust="spacingAndGlyphs">Lug</text>
<text x="197.8" y="862.9" font-size="12" fill="#131722" textLength="17.2" lengthAdjust="spacingAndGlyphs">Set</text>
<text x="281.5" y="862.9" font-size="12" fill="#131722" textLength="19.7" lengthAdjust="spacingAndGlyphs">Nov</text>
<text x="359.1" y="862.9" font-size="12" fill="#131722" textLength="27.4" lengthAdjust="spacingAndGlyphs" font-weight="bold">2025</text>
<text x="442.0" y="862.9" font-size="12" fill="#131722" textLength="18.7" lengthAdjust="spacingAndGlyphs">Mar</text>
<text x="524.1" y="862.9" font-size="12" fill="#131722" textLength="20.9" lengthAdjust="spacingAndGlyphs">Mag</text>
<text x="606.5" y="862.9" font-size="12" fill="#131722" textLength="18.2" lengthAdjust="spacingAndGlyphs">Lug</text>
<text x="691.6" y="862.9" font-size="12" fill="#131722" textLength="17.2" lengthAdjust="spacingAndGlyphs">Set</text>
<text x="777.1" y="862.9" font-size="12" fill="#131722" textLength="19.7" lengthAdjust="spacingAndGlyphs">Nov</text>
<text x="854.5" y="862.9" font-size="12" fill="#131722" textLength="27.4" lengthAdjust="spacingAndGlyphs" font-weight="bold">2026</text>
<text x="935.9" y="862.9" font-size="12" fill="#131722" textLength="18.7" lengthAdjust="spacingAndGlyphs">Mar</text>
<text x="1019.8" y="862.9" font-size="12" fill="#131722" textLength="20.9" lengthAdjust="spacingAndGlyphs">Mag</text>
<g transform="translate(1099.4 859.4)" fill="none" stroke="#131722" stroke-width="1.3"><path d="M-7 0L-3.6 -6H3.6L7 0L3.6 6H-3.6Z"/><circle r="2.1"/></g>
<g transform="translate(16 816.3)" fill="#000"><path d="M0 0H11.9V14.4H6.2V5.8H0Z"/><circle cx="16.6" cy="3" r="2.9"/><path d="M23.2 0H30.2L24.1 14.4H17.1Z"/></g>
<text x="13" y="696.6" font-size="12.6" fill="#131722" textLength="190" lengthAdjust="spacingAndGlyphs">JK_RSI close 14 25 75 50 5 S S 34</text>
<text x="211.5" y="696.6" font-size="12.6" fill="#4a4ab8" textLength="31" lengthAdjust="spacingAndGlyphs">56,53</text>
<text x="250" y="696.6" font-size="12.6" fill="#363a45" textLength="31" lengthAdjust="spacingAndGlyphs">62,08</text>
<text x="287.5" y="696.6" font-size="12.6" fill="#9c27b0" textLength="31" lengthAdjust="spacingAndGlyphs">57,09</text>
<text x="325.8" y="696.6" font-size="12.6" fill="#2a4db8" textLength="31" lengthAdjust="spacingAndGlyphs">50,00</text>
<text x="13" y="766" font-size="12.6" fill="#131722" textLength="216.5" lengthAdjust="spacingAndGlyphs">Disparity_Index 5 13 close 7 EMA EMA</text>
<text x="238.5" y="766" font-size="12.6" fill="#b2dfdb">0,8</text>
<text x="263" y="766" font-size="12.6" fill="#3d6fd6">0,8</text>
<text x="287" y="766" font-size="12.6" fill="#4caf50">0,0</text>
<text x="35.8" y="63.9" font-size="15.8" fill="#131722" font-weight="normal" textLength="205.2" lengthAdjust="spacingAndGlyphs">Futures palladio · 1D · NYMEX</text>
<text x="297" y="62.9" font-size="12.4" fill="#131722" font-weight="normal" textLength="49.6" lengthAdjust="spacingAndGlyphs">O - Aper.</text>
<text x="350.3" y="62.9" font-size="12.4" fill="#ef5350" font-weight="normal" textLength="41.8" lengthAdjust="spacingAndGlyphs">1.487,5</text>
<text x="398.9" y="62.9" font-size="12.4" fill="#131722" font-weight="normal" textLength="47.1" lengthAdjust="spacingAndGlyphs">H - Max.</text>
<text x="449.5" y="62.9" font-size="12.4" fill="#ef5350" font-weight="normal" textLength="41.5" lengthAdjust="spacingAndGlyphs">1.503,5</text>
<text x="498.1" y="62.9" font-size="12.4" fill="#131722" font-weight="normal" textLength="41.8" lengthAdjust="spacingAndGlyphs">L - Min.</text>
<text x="543.5" y="62.9" font-size="12.4" fill="#ef5350" font-weight="normal" textLength="41.4" lengthAdjust="spacingAndGlyphs">1.423,5</text>
<text x="592" y="62.9" font-size="12.4" fill="#131722" font-weight="normal" textLength="51.9" lengthAdjust="spacingAndGlyphs">C - Chius.</text>
<text x="649.4" y="62.9" font-size="12.4" fill="#ef5350" font-weight="normal" textLength="42.7" lengthAdjust="spacingAndGlyphs">1.481,0</text>
<text x="699.5" y="62.9" font-size="12.4" fill="#ef5350" font-weight="normal" textLength="76.8" lengthAdjust="spacingAndGlyphs">−7,0 (−0,48%)</text>
<rect x="12.5" y="74.5" width="65" height="33" rx="5" fill="#fff" stroke="#ef5350" stroke-width="1"/>
<rect x="113.5" y="74.5" width="65" height="33" rx="5" fill="#fff" stroke="#3b6bdc" stroke-width="1"/>
<text x="23.9" y="87.8" font-size="12.2" fill="#ef5350" font-weight="bold" textLength="42.9" lengthAdjust="spacingAndGlyphs">1.450,0</text>
<text x="29.9" y="101.5" font-size="10.6" fill="#ef5350" font-weight="normal" textLength="29.7" lengthAdjust="spacingAndGlyphs">VENDI</text>
<text x="86.6" y="93.8" font-size="10.6" fill="#131722" font-weight="normal" textLength="18.6" lengthAdjust="spacingAndGlyphs">31,5</text>
<text x="125.6" y="87.8" font-size="12.2" fill="#3b6bdc" font-weight="bold" textLength="42.1" lengthAdjust="spacingAndGlyphs">1.481,5</text>
<text x="125.1" y="101.5" font-size="10.6" fill="#3b6bdc" font-weight="normal" textLength="42.3" lengthAdjust="spacingAndGlyphs">COMPRA</text>
<text x="32.6" y="23.8" font-size="14.2" fill="#131722" font-weight="bold" textLength="28.0" lengthAdjust="spacingAndGlyphs">PA1!</text>
<text x="162" y="23.8" font-size="14" fill="#131722" font-weight="normal" textLength="7.6" lengthAdjust="spacingAndGlyphs">D</text>
<text x="277.8" y="23.8" font-size="14" fill="#131722" font-weight="normal" textLength="58.8" lengthAdjust="spacingAndGlyphs">Indicatori</text>
<text x="431.7" y="23.8" font-size="14" fill="#131722" font-weight="normal" textLength="29.9" lengthAdjust="spacingAndGlyphs">Alert</text>
<text x="509.8" y="23.8" font-size="14" fill="#131722" font-weight="normal" textLength="40.9" lengthAdjust="spacingAndGlyphs">Replay</text>
<path d="M208.5 12V28M208.5 14.5H212M205 25.5H208.5M216.5 11V27M213 18.5H216.5M216.5 23.5H220" stroke="#131722" stroke-width="1.15" fill="none"/>
<path d="M251.5 27.5V23.5H255.5V27.5ZM255.5 23.5V20.5H259.5V27.5M259.5 22.5H263.5V27.5M263.5 22.5V17.5H267.5V27.5H255.5" stroke="#131722" stroke-width="1.15" fill="none" stroke-linejoin="miter"/>
<path d="M251 16.7L256.1 11.8L260.7 14.9L267.9 10" stroke="#131722" stroke-width="1.25" fill="none" stroke-linejoin="round"/>
<rect x="1073.7" y="46.5" width="50.9" height="48.8" rx="4" fill="#fff" stroke="#ececec" stroke-width="1"/>
<text x="1077.3" y="62.9" font-size="12.4" fill="#131722" font-weight="normal" textLength="20.0" lengthAdjust="spacingAndGlyphs">USD</text>
<text x="1077.3" y="87.1" font-size="12.4" fill="#131722" font-weight="normal" textLength="24.6" lengthAdjust="spacingAndGlyphs">apoz</text>
<path d="M1115.1 58.3L1117.5 60.6L1119.9 58.3M1115.1 82.8L1117.5 85.1L1119.9 82.8" fill="none" stroke="#131722" stroke-width="1.4"/>
</svg>
<!-- header legend -->
<svg style="position:absolute;left:13px;top:49px" width="18" height="18" viewBox="0 0 18 18"><circle cx="9" cy="9" r="9" fill="#a9b3b6"/><path d="M6.9 4.6H11.1L12.6 7.6H5.4ZM3.9 8.6H8L9 11.8H2.4ZM10 8.6H14.1L15.6 11.8H9Z" fill="#fff"/></svg>
<div class="lg" style="left:249.2px;top:49.2px;width:39px;height:17.6px;border-radius:9px;background:#f1f1f2"></div>
<div class="lg" style="left:267px;top:49.2px;width:21.2px;height:17.6px;border-radius:0 9px 9px 0;background:#fdf2e2"></div>
<div class="lg" style="left:255px;top:56.3px;width:9.6px;height:3.5px;border-radius:2px;background:#8e8e90"></div>
<div class="lg" style="left:273.3px;top:50.5px;font-size:12.5px;line-height:16px;font-weight:bold;color:#e8860c">D</div>
<!-- currency box -->
<div style="position:absolute;left:1097px;top:876.5px;width:25px;height:8px;border-radius:4px;background:#e6e6e6"></div>
</body></html>
